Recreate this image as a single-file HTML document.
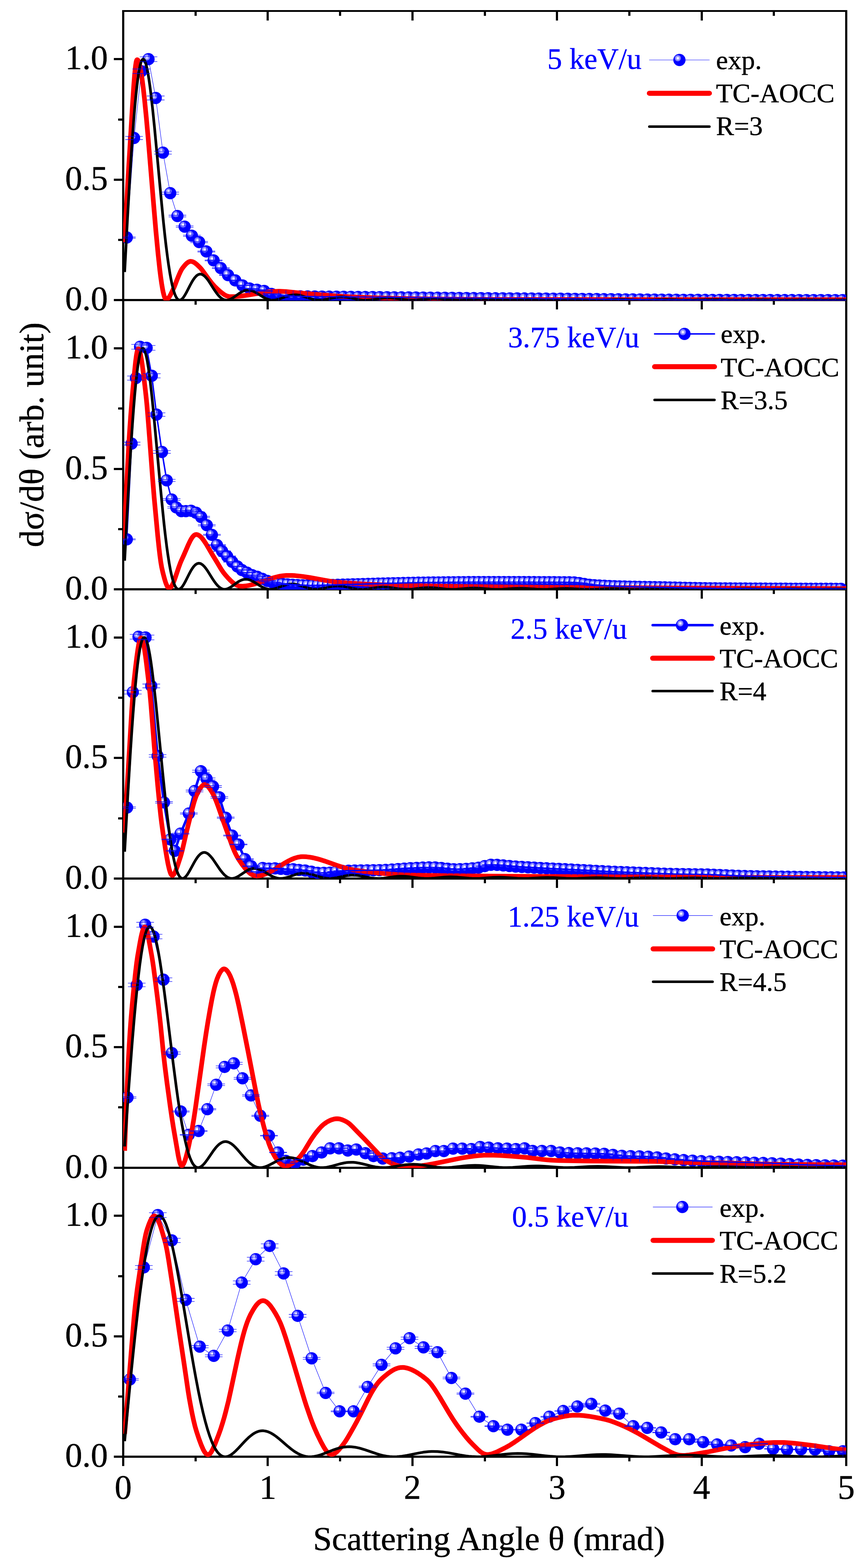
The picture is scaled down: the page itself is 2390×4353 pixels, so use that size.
<!DOCTYPE html><html><head><meta charset="utf-8"><title>Scattering</title>
<style>html,body{margin:0;padding:0;background:#fff;}svg{display:block;}text{font-family:"Liberation Serif","Times New Roman",serif;}</style></head><body>
<svg xmlns="http://www.w3.org/2000/svg" width="2390" height="4353" viewBox="0 0 2390 4353">
<rect x="0" y="0" width="2390" height="4353" fill="#fff"/>
<defs>
<g id="b"><circle r="17" fill="#0000ff"/><circle cx="-4.5" cy="-5" r="8.7" fill="#7878ff"/><circle cx="-4.5" cy="-5" r="5.6" fill="#b4b4ff"/><circle cx="-4.5" cy="-5" r="2.7" fill="#fff"/></g>
<clipPath id="c0"><rect x="342" y="30.5" width="2007" height="803.75"/></clipPath>
<clipPath id="c1"><rect x="342" y="833.25" width="2007" height="803.75"/></clipPath>
<clipPath id="c2"><rect x="342" y="1636" width="2007" height="803.75"/></clipPath>
<clipPath id="c3"><rect x="342" y="2438.75" width="2007" height="803.75"/></clipPath>
<clipPath id="c4"><rect x="342" y="3241.5" width="2007" height="803.75"/></clipPath>
</defs>
<g fill="#000">
<rect x="339" y="28" width="6" height="4019"/>
<rect x="2346" y="28" width="6" height="4019"/>
<rect x="339" y="28" width="2013" height="5"/>
<rect x="316" y="830" width="2036" height="6"/>
<rect x="316" y="1633" width="2036" height="6"/>
<rect x="316" y="2436" width="2036" height="6"/>
<rect x="316" y="3239" width="2036" height="6"/>
<rect x="316" y="4041" width="2036" height="6"/>
<rect x="316" y="496" width="24" height="6"/>
<rect x="316" y="161" width="24" height="6"/>
<rect x="328" y="663" width="12" height="6"/>
<rect x="328" y="329" width="12" height="6"/>
<rect x="316" y="1299" width="24" height="6"/>
<rect x="316" y="964" width="24" height="6"/>
<rect x="328" y="1466" width="12" height="6"/>
<rect x="328" y="1131" width="12" height="6"/>
<rect x="316" y="2101" width="24" height="6"/>
<rect x="316" y="1767" width="24" height="6"/>
<rect x="328" y="2269" width="12" height="6"/>
<rect x="328" y="1934" width="12" height="6"/>
<rect x="316" y="2904" width="24" height="6"/>
<rect x="316" y="2570" width="24" height="6"/>
<rect x="328" y="3071" width="12" height="6"/>
<rect x="328" y="2737" width="12" height="6"/>
<rect x="316" y="3707" width="24" height="6"/>
<rect x="316" y="3372" width="24" height="6"/>
<rect x="328" y="3874" width="12" height="6"/>
<rect x="328" y="3540" width="12" height="6"/>
<rect x="339" y="33" width="6" height="24"/>
<rect x="339" y="836" width="6" height="23"/>
<rect x="339" y="1639" width="6" height="23"/>
<rect x="339" y="2442" width="6" height="23"/>
<rect x="339" y="3245" width="6" height="23"/>
<rect x="339" y="4047" width="6" height="23"/>
<rect x="540" y="33" width="6" height="11"/>
<rect x="540" y="836" width="6" height="10"/>
<rect x="540" y="1639" width="6" height="10"/>
<rect x="540" y="2442" width="6" height="10"/>
<rect x="540" y="3245" width="6" height="10"/>
<rect x="540" y="4047" width="6" height="10"/>
<rect x="740" y="33" width="6" height="24"/>
<rect x="740" y="836" width="6" height="23"/>
<rect x="740" y="1639" width="6" height="23"/>
<rect x="740" y="2442" width="6" height="23"/>
<rect x="740" y="3245" width="6" height="23"/>
<rect x="740" y="4047" width="6" height="23"/>
<rect x="941" y="33" width="6" height="11"/>
<rect x="941" y="836" width="6" height="10"/>
<rect x="941" y="1639" width="6" height="10"/>
<rect x="941" y="2442" width="6" height="10"/>
<rect x="941" y="3245" width="6" height="10"/>
<rect x="941" y="4047" width="6" height="10"/>
<rect x="1142" y="33" width="6" height="24"/>
<rect x="1142" y="836" width="6" height="23"/>
<rect x="1142" y="1639" width="6" height="23"/>
<rect x="1142" y="2442" width="6" height="23"/>
<rect x="1142" y="3245" width="6" height="23"/>
<rect x="1142" y="4047" width="6" height="23"/>
<rect x="1343" y="33" width="6" height="11"/>
<rect x="1343" y="836" width="6" height="10"/>
<rect x="1343" y="1639" width="6" height="10"/>
<rect x="1343" y="2442" width="6" height="10"/>
<rect x="1343" y="3245" width="6" height="10"/>
<rect x="1343" y="4047" width="6" height="10"/>
<rect x="1543" y="33" width="6" height="24"/>
<rect x="1543" y="836" width="6" height="23"/>
<rect x="1543" y="1639" width="6" height="23"/>
<rect x="1543" y="2442" width="6" height="23"/>
<rect x="1543" y="3245" width="6" height="23"/>
<rect x="1543" y="4047" width="6" height="23"/>
<rect x="1744" y="33" width="6" height="11"/>
<rect x="1744" y="836" width="6" height="10"/>
<rect x="1744" y="1639" width="6" height="10"/>
<rect x="1744" y="2442" width="6" height="10"/>
<rect x="1744" y="3245" width="6" height="10"/>
<rect x="1744" y="4047" width="6" height="10"/>
<rect x="1945" y="33" width="6" height="24"/>
<rect x="1945" y="836" width="6" height="23"/>
<rect x="1945" y="1639" width="6" height="23"/>
<rect x="1945" y="2442" width="6" height="23"/>
<rect x="1945" y="3245" width="6" height="23"/>
<rect x="1945" y="4047" width="6" height="23"/>
<rect x="2145" y="33" width="6" height="11"/>
<rect x="2145" y="836" width="6" height="10"/>
<rect x="2145" y="1639" width="6" height="10"/>
<rect x="2145" y="2442" width="6" height="10"/>
<rect x="2145" y="3245" width="6" height="10"/>
<rect x="2145" y="4047" width="6" height="10"/>
<rect x="2346" y="33" width="6" height="24"/>
<rect x="2346" y="836" width="6" height="23"/>
<rect x="2346" y="1639" width="6" height="23"/>
<rect x="2346" y="2442" width="6" height="23"/>
<rect x="2346" y="3245" width="6" height="23"/>
<rect x="2346" y="4047" width="6" height="23"/>
</g>
<g clip-path="url(#c0)">
<path d="M352 659.3L372.1 383L392.2 197.7L412.2 164.3L432.3 272L452.4 423.8L472.5 536.2L492.5 599.8L512.6 629.2L532.7 654.6L552.7 672L572.8 698.1L592.9 722.9L612.9 744.3L633 763.7L653.1 778.4L673.2 792.4L693.2 801.1L733.4 807.8L753.4 815.9L773.5 819.2L793.6 821.2L813.6 822.3L833.7 822.7L873.9 823.3L1315.4 827.6L1556.2 829.3L1716.8 831L1857.3 832.1L1937.6 832.5L2058 832.9L2339 833.2" fill="none" stroke="#0000ff" stroke-width="1.2" stroke-linejoin="round"/>
<use href="#b" x="352" y="659.3"/>
<use href="#b" x="372.1" y="383"/>
<use href="#b" x="392.2" y="197.7"/>
<use href="#b" x="412.2" y="164.3"/>
<use href="#b" x="432.3" y="272"/>
<use href="#b" x="452.4" y="423.8"/>
<use href="#b" x="472.5" y="536.2"/>
<use href="#b" x="492.5" y="599.8"/>
<use href="#b" x="512.6" y="629.2"/>
<use href="#b" x="532.7" y="654.6"/>
<use href="#b" x="552.7" y="672"/>
<use href="#b" x="572.8" y="698.1"/>
<use href="#b" x="592.9" y="722.9"/>
<use href="#b" x="612.9" y="744.3"/>
<use href="#b" x="633" y="763.7"/>
<use href="#b" x="653.1" y="778.4"/>
<use href="#b" x="673.2" y="792.4"/>
<use href="#b" x="693.2" y="801.1"/>
<use href="#b" x="713.3" y="804.5"/>
<use href="#b" x="733.4" y="807.8"/>
<use href="#b" x="753.4" y="815.9"/>
<use href="#b" x="773.5" y="819.2"/>
<use href="#b" x="793.6" y="821.2"/>
<use href="#b" x="813.6" y="822.3"/>
<use href="#b" x="833.7" y="822.7"/>
<use href="#b" x="853.8" y="823"/>
<use href="#b" x="873.9" y="823.3"/>
<use href="#b" x="893.9" y="823.4"/>
<use href="#b" x="914" y="823.6"/>
<use href="#b" x="934.1" y="823.8"/>
<use href="#b" x="954.1" y="824"/>
<use href="#b" x="974.2" y="824.2"/>
<use href="#b" x="994.3" y="824.4"/>
<use href="#b" x="1014.3" y="824.6"/>
<use href="#b" x="1034.4" y="824.8"/>
<use href="#b" x="1054.5" y="825"/>
<use href="#b" x="1074.6" y="825.2"/>
<use href="#b" x="1094.6" y="825.4"/>
<use href="#b" x="1114.7" y="825.6"/>
<use href="#b" x="1134.8" y="825.8"/>
<use href="#b" x="1154.8" y="826"/>
<use href="#b" x="1174.9" y="826.2"/>
<use href="#b" x="1195" y="826.4"/>
<use href="#b" x="1215" y="826.6"/>
<use href="#b" x="1235.1" y="826.8"/>
<use href="#b" x="1255.2" y="827"/>
<use href="#b" x="1275.3" y="827.3"/>
<use href="#b" x="1295.3" y="827.5"/>
<use href="#b" x="1315.4" y="827.6"/>
<use href="#b" x="1335.5" y="827.8"/>
<use href="#b" x="1355.5" y="828"/>
<use href="#b" x="1375.6" y="828.1"/>
<use href="#b" x="1395.7" y="828.3"/>
<use href="#b" x="1415.7" y="828.4"/>
<use href="#b" x="1435.8" y="828.5"/>
<use href="#b" x="1455.9" y="828.6"/>
<use href="#b" x="1476" y="828.7"/>
<use href="#b" x="1496" y="828.9"/>
<use href="#b" x="1516.1" y="829"/>
<use href="#b" x="1536.2" y="829.2"/>
<use href="#b" x="1556.2" y="829.3"/>
<use href="#b" x="1576.3" y="829.5"/>
<use href="#b" x="1596.4" y="829.7"/>
<use href="#b" x="1616.4" y="829.9"/>
<use href="#b" x="1636.5" y="830.1"/>
<use href="#b" x="1656.6" y="830.3"/>
<use href="#b" x="1676.7" y="830.6"/>
<use href="#b" x="1696.7" y="830.8"/>
<use href="#b" x="1716.8" y="831"/>
<use href="#b" x="1736.9" y="831.2"/>
<use href="#b" x="1756.9" y="831.3"/>
<use href="#b" x="1777" y="831.5"/>
<use href="#b" x="1797.1" y="831.7"/>
<use href="#b" x="1817.1" y="831.8"/>
<use href="#b" x="1837.2" y="832"/>
<use href="#b" x="1857.3" y="832.1"/>
<use href="#b" x="1877.4" y="832.2"/>
<use href="#b" x="1897.4" y="832.4"/>
<use href="#b" x="1917.5" y="832.5"/>
<use href="#b" x="1937.6" y="832.5"/>
<use href="#b" x="1957.6" y="832.6"/>
<use href="#b" x="1977.7" y="832.7"/>
<use href="#b" x="1997.8" y="832.7"/>
<use href="#b" x="2017.8" y="832.8"/>
<use href="#b" x="2037.9" y="832.8"/>
<use href="#b" x="2058" y="832.9"/>
<use href="#b" x="2078.1" y="832.9"/>
<use href="#b" x="2098.1" y="833"/>
<use href="#b" x="2118.2" y="833"/>
<use href="#b" x="2138.3" y="833"/>
<use href="#b" x="2158.3" y="833.1"/>
<use href="#b" x="2178.4" y="833.1"/>
<use href="#b" x="2198.5" y="833.1"/>
<use href="#b" x="2218.5" y="833.2"/>
<use href="#b" x="2238.6" y="833.2"/>
<use href="#b" x="2258.7" y="833.2"/>
<use href="#b" x="2278.8" y="833.2"/>
<use href="#b" x="2298.8" y="833.2"/>
<use href="#b" x="2318.9" y="833.2"/>
<use href="#b" x="2339" y="833.2"/>
<path d="M346 672.7L350.2 590.1L355.2 498.3L367.7 292.1L371.1 240.5L373.6 208L376.1 183.6L377.7 172.9L378.6 169.4L379.4 167.1L380.2 166L381.1 165.7L381.9 166.1L382.8 167.1L383.6 168.5L385.3 172.6L387.8 181.5L390.3 193.4L392.8 208.2L395.3 225.7L397.8 245.5L401.1 275.2L406.1 325.8L411.1 381.8L427 574.1L432.8 642.2L438.7 704.2L443.7 750.2L446.2 770L448.7 787.5L451.2 802.4L452.9 810.8L455.4 820.8L457.1 825.7L458.7 829L459.6 830.2L460.4 830.9L461.2 831.3L462.1 831.4L463.7 831L465.4 829.8L467.1 828.1L470.4 823.4L473.8 817.4L482.9 798.5L485.4 792.4L491.3 776.9L497.1 762.6L501.3 753.3L504.6 747.2L507.2 743.6L511.3 738.4L515.5 733.7L518.8 730.5L522.2 728L524.7 726.6L527.2 725.8L529.7 725.6L532.2 725.9L534.7 726.6L537.2 727.7L540.6 729.7L543.9 732.2L547.2 735L554.7 742.2L558.1 745.9L561.4 750L579 774.4L589 787.4L596.5 795.8L606.5 805.2L612.4 810.3L617.4 814.3L621.5 817.3L624.9 819.3L629.1 821.3L632.4 822.4L635.7 823.2L639.9 823.6L645.8 823.6L653.3 823.2L662.5 822.5L671.6 821.5L689.2 819L728.4 812.7L745.9 810.4L761.8 809L776 808.6L785.2 808.9L794.4 809.6L825.3 812.6L888.7 818.3L934.6 821.7L966.4 823.7L1007.3 825.5L1062.4 827.4L1110.8 828.6L1160.9 829.5L1261.1 830.7L1342.9 831.2L1809.6 831.7L2349 831.9" fill="none" stroke="#ff0000" stroke-width="13" stroke-linejoin="round"/>
<path d="M346 755.2L354 604.4L361 482.8L365 419.7L368 376.1L371 336.1L374 299.8L377 267.6L380 239.6L383 215.9L386 196.6L388.9 181.9L389.9 178L391.9 171.6L392.9 169.2L393.9 167.3L394.9 165.8L395.9 164.8L396.9 164.4L397.9 164.3L398.9 164.8L399.9 165.7L400.9 167.1L402.9 171.2L404.9 177.1L407.9 189L409.9 198.9L412.9 216.6L415.9 237.3L418.9 260.7L423.9 304.9L428.9 354.1L446.9 546.9L453.8 617.7L457.8 655L460.8 681L464.8 712.7L467.8 734.2L471.8 759.6L474.8 776.1L477.8 790.4L481.8 806.1L484.8 815.4L486.8 820.4L488.8 824.5L490.8 827.8L492.8 830.3L494.8 832L496.8 833L497.8 833.2L499.8 833.1L500.8 832.9L502.8 831.9L505.8 829.5L507.8 827.3L509.8 824.7L512.8 820.2L516.8 813.2L527.7 792L532.7 782.8L536.7 776.3L540.7 770.8L544.7 766.4L546.7 764.6L548.7 763.2L551.7 761.8L553.7 761.2L555.7 761L557.7 761.1L559.7 761.6L561.7 762.4L563.7 763.5L567.7 766.5L569.7 768.4L572.7 771.7L576.7 776.7L580.7 782.4L594.6 804.2L599.6 811.5L604.6 818.1L609.6 823.7L614.6 828L618.6 830.6L622.6 832.3L624.6 832.8L627.6 833.2L630.6 833.2L634.6 832.5L637.6 831.5L641.6 829.7L648.6 825.5L665.5 813.5L670.5 810.5L674.5 808.5L678.5 806.9L681.5 806.1L685.5 805.4L688.5 805.3L692.5 805.5L696.5 806.3L700.5 807.5L704.5 809.2L712.5 813.4L731.4 825.2L736.4 827.8L740.4 829.6L745.4 831.4L749.4 832.4L753.4 833L757.4 833.2L760.4 833.2L764.4 832.8L768.4 832L772.4 831L779.4 828.8L796.3 822.5L804.3 820.2L811.3 818.9L818.3 818.4L822.3 818.5L826.3 818.9L830.3 819.5L835.3 820.7L843.3 823L861.2 829L870.2 831.4L878.2 832.8L886.2 833.2L892.2 833L899.2 832.3L907.2 830.8L923.1 827.2L931.1 825.6L939.1 824.5L946.9 824.1L952.5 824.2L961 824.9L969.4 826.3L989.1 830.4L997.6 831.9L1006 832.9L1014.5 833.2L1020.1 833.1L1028.6 832.5L1037 831.4L1059.5 828.1L1068 827.3L1076.4 827L1084.9 827.2L1093.3 827.9L1121.5 831.7L1129.9 832.6L1138.4 833.2L1144 833.2L1149.6 833.1L1158.1 832.7L1191.9 829.3L1200.3 828.8L1205.9 828.7L1220 829.2L1253.8 832.5L1262.2 833L1270.7 833.2L1284.8 832.9L1318.6 830.3L1327 829.9L1335.4 829.8L1343.9 830L1352.3 830.4L1386.1 832.9L1400.2 833.2L1414.3 832.9L1445.2 831.1L1462.1 830.6L1476.2 830.8L1512.8 832.9L1529.7 833.2L1546.6 832.9L1577.6 831.4L1591.6 831.1L1605.7 831.3L1639.5 832.9L1656.4 833.2L1670.5 833.1L1704.3 831.7L1721.2 831.5L1738.1 831.8L1771.8 833.1L1785.9 833.2L1800 833.1L1831 832L1847.9 831.8L1864.7 832L1895.7 833L1912.6 833.2L1926.7 833.1L1960.5 832.2L1977.4 832L1991.4 832.1L2025.2 833L2042.1 833.2L2056.2 833.1L2090 832.3L2104.1 832.2L2121 832.3L2154.7 833.1L2171.6 833.2L2230.8 832.3L2247.6 832.4L2298.3 833.2L2315.2 833.1L2349 832.5" fill="none" stroke="#000" stroke-width="7.5" stroke-linejoin="round"/>
<path d="M327.5 657.6h49M327.5 661h49M352 644.3V657.6M352 661V674.3M347.6 378.6h49M347.6 387.5h49M372.1 368V378.6M372.1 387.5V398M367.7 191.5h49M367.7 204h49M392.2 182.7V191.5M392.2 204V212.7M387.7 157.7h49M387.7 170.9h49M412.2 149.3V157.7M412.2 170.9V179.3M407.8 266.5h49M407.8 277.5h49M432.3 257V266.5M432.3 277.5V287M427.9 419.8h49M427.9 427.9h49M452.4 408.8V419.8M452.4 427.9V438.8M448 533.3h49M448 539.2h49M472.5 521.2V533.3M472.5 539.2V551.2M468 597.5h49M468 602.1h49M492.5 584.8V597.5M492.5 602.1V614.8M488.1 627.2h49M488.1 631.2h49M512.6 614.2V627.2M512.6 631.2V644.2M508.2 652.9h49M508.2 656.4h49M532.7 639.6V652.9M532.7 656.4V669.6M528.2 670.4h49M528.2 673.6h49M552.7 657V670.4M552.7 673.6V687M548.3 696.8h49M548.3 699.5h49M572.8 683.1V696.8M572.8 699.5V713.1M568.4 721.8h49M568.4 724h49M592.9 707.9V721.8M592.9 724V737.9M588.4 743.4h49M588.4 745.2h49M612.9 729.3V743.4M612.9 745.2V759.3M608.5 762.9h49M608.5 764.5h49M633 748.7V762.9M633 764.5V778.7M628.6 777.6h49M628.6 779.2h49M653.1 763.4V777.6M653.1 779.2V793.4M648.7 791.6h49M648.7 793.2h49M673.2 777.4V791.6M673.2 793.2V807.4M668.7 800.3h49M668.7 801.9h49M693.2 786.1V800.3M693.2 801.9V816.1M688.8 803.7h49M688.8 805.3h49M713.3 789.5V803.7M713.3 805.3V819.5M708.9 807h49M708.9 808.6h49M733.4 792.8V807M733.4 808.6V822.8M728.9 815.1h49M728.9 816.7h49M753.4 800.9V815.1M753.4 816.7V830.9M749 818.4h49M749 820h49M773.5 804.2V818.4M773.5 820V834.2M769.1 820.4h49M769.1 822h49M793.6 806.2V820.4M793.6 822V836.2M789.1 821.5h49M789.1 823.1h49M813.6 807.3V821.5M813.6 823.1V837.3M809.2 821.9h49M809.2 823.5h49M833.7 807.7V821.9M833.7 823.5V837.7M829.3 822.2h49M829.3 823.8h49M853.8 808V822.2M853.8 823.8V838M849.4 822.5h49M849.4 824.1h49M873.9 808.3V822.5M873.9 824.1V838.3M869.4 822.6h49M869.4 824.2h49M893.9 808.4V822.6M893.9 824.2V838.4M889.5 822.8h49M889.5 824.4h49M914 808.6V822.8M914 824.4V838.6M909.6 823h49M909.6 824.6h49M934.1 808.8V823M934.1 824.6V838.8M929.6 823.2h49M929.6 824.8h49M954.1 809V823.2M954.1 824.8V839M949.7 823.4h49M949.7 825h49M974.2 809.2V823.4M974.2 825V839.2M969.8 823.6h49M969.8 825.2h49M994.3 809.4V823.6M994.3 825.2V839.4M989.8 823.8h49M989.8 825.4h49M1014.3 809.6V823.8M1014.3 825.4V839.6M1009.9 824h49M1009.9 825.6h49M1034.4 809.8V824M1034.4 825.6V839.8M1030 824.2h49M1030 825.8h49M1054.5 810V824.2M1054.5 825.8V840M1050.1 824.4h49M1050.1 826h49M1074.6 810.2V824.4M1074.6 826V840.2M1070.1 824.6h49M1070.1 826.2h49M1094.6 810.4V824.6M1094.6 826.2V840.4M1090.2 824.8h49M1090.2 826.4h49M1114.7 810.6V824.8M1114.7 826.4V840.6M1110.3 825h49M1110.3 826.6h49M1134.8 810.8V825M1134.8 826.6V840.8M1130.3 825.2h49M1130.3 826.8h49M1154.8 811V825.2M1154.8 826.8V841M1150.4 825.4h49M1150.4 827h49M1174.9 811.2V825.4M1174.9 827V841.2M1170.5 825.6h49M1170.5 827.2h49M1195 811.4V825.6M1195 827.2V841.4M1190.5 825.8h49M1190.5 827.4h49M1215 811.6V825.8M1215 827.4V841.6M1210.6 826h49M1210.6 827.6h49M1235.1 811.8V826M1235.1 827.6V841.8M1230.7 826.2h49M1230.7 827.8h49M1255.2 812V826.2M1255.2 827.8V842M1250.8 826.5h49M1250.8 828.1h49M1275.3 812.3V826.5M1275.3 828.1V842.3M1270.8 826.7h49M1270.8 828.3h49M1295.3 812.5V826.7M1295.3 828.3V842.5M1290.9 826.8h49M1290.9 828.4h49M1315.4 812.6V826.8M1315.4 828.4V842.6M1311 827h49M1311 828.6h49M1335.5 812.8V827M1335.5 828.6V842.8M1331 827.2h49M1331 828.8h49M1355.5 813V827.2M1355.5 828.8V843M1351.1 827.3h49M1351.1 828.9h49M1375.6 813.1V827.3M1375.6 828.9V843.1M1371.2 827.5h49M1371.2 829.1h49M1395.7 813.3V827.5M1395.7 829.1V843.3M1391.2 827.6h49M1391.2 829.2h49M1415.7 813.4V827.6M1415.7 829.2V843.4M1411.3 827.7h49M1411.3 829.3h49M1435.8 813.5V827.7M1435.8 829.3V843.5M1431.4 827.8h49M1431.4 829.4h49M1455.9 813.6V827.8M1455.9 829.4V843.6M1451.5 827.9h49M1451.5 829.5h49M1476 813.7V827.9M1476 829.5V843.7M1471.5 828.1h49M1471.5 829.7h49M1496 813.9V828.1M1496 829.7V843.9M1491.6 828.2h49M1491.6 829.8h49M1516.1 814V828.2M1516.1 829.8V844M1511.7 828.4h49M1511.7 830h49M1536.2 814.2V828.4M1536.2 830V844.2M1531.7 828.5h49M1531.7 830.1h49M1556.2 814.3V828.5M1556.2 830.1V844.3M1551.8 828.7h49M1551.8 830.3h49M1576.3 814.5V828.7M1576.3 830.3V844.5M1571.9 828.9h49M1571.9 830.5h49M1596.4 814.7V828.9M1596.4 830.5V844.7M1591.9 829.1h49M1591.9 830.7h49M1616.4 814.9V829.1M1616.4 830.7V844.9M1612 829.3h49M1612 830.9h49M1636.5 815.1V829.3M1636.5 830.9V845.1M1632.1 829.5h49M1632.1 831.1h49M1656.6 815.3V829.5M1656.6 831.1V845.3M1652.2 829.8h49M1652.2 831.4h49M1676.7 815.6V829.8M1676.7 831.4V845.6M1672.2 830h49M1672.2 831.6h49M1696.7 815.8V830M1696.7 831.6V845.8M1692.3 830.2h49M1692.3 831.8h49M1716.8 816V830.2M1716.8 831.8V846M1712.4 830.4h49M1712.4 832h49M1736.9 816.2V830.4M1736.9 832V846.2M1732.4 830.5h49M1732.4 832.1h49M1756.9 816.3V830.5M1756.9 832.1V846.3M1752.5 830.7h49M1752.5 832.3h49M1777 816.5V830.7M1777 832.3V846.5M1772.6 830.9h49M1772.6 832.5h49M1797.1 816.7V830.9M1797.1 832.5V846.7M1792.6 831h49M1792.6 832.6h49M1817.1 816.8V831M1817.1 832.6V846.8M1812.7 831.2h49M1812.7 832.8h49M1837.2 817V831.2M1837.2 832.8V847M1832.8 831.3h49M1832.8 832.9h49M1857.3 817.1V831.3M1857.3 832.9V847.1M1852.9 831.4h49M1852.9 833h49M1877.4 817.2V831.4M1877.4 833V847.2M1872.9 831.6h49M1872.9 833.2h49M1897.4 817.4V831.6M1897.4 833.2V847.4M1893 831.7h49M1893 833.3h49M1917.5 817.5V831.7M1917.5 833.3V847.5M1913.1 831.7h49M1913.1 833.3h49M1937.6 817.5V831.7M1937.6 833.3V847.5M1933.1 831.8h49M1933.1 833.4h49M1957.6 817.6V831.8M1957.6 833.4V847.6M1953.2 831.9h49M1953.2 833.5h49M1977.7 817.7V831.9M1977.7 833.5V847.7M1973.3 831.9h49M1973.3 833.5h49M1997.8 817.7V831.9M1997.8 833.5V847.7M1993.3 832h49M1993.3 833.6h49M2017.8 817.8V832M2017.8 833.6V847.8M2013.4 832h49M2013.4 833.6h49M2037.9 817.8V832M2037.9 833.6V847.8M2033.5 832.1h49M2033.5 833.7h49M2058 817.9V832.1M2058 833.7V847.9M2053.6 832.1h49M2053.6 833.7h49M2078.1 817.9V832.1M2078.1 833.7V847.9M2073.6 832.2h49M2073.6 833.8h49M2098.1 818V832.2M2098.1 833.8V848M2093.7 832.2h49M2093.7 833.8h49M2118.2 818V832.2M2118.2 833.8V848M2113.8 832.2h49M2113.8 833.8h49M2138.3 818V832.2M2138.3 833.8V848M2133.8 832.3h49M2133.8 833.9h49M2158.3 818.1V832.3M2158.3 833.9V848.1M2153.9 832.3h49M2153.9 833.9h49M2178.4 818.1V832.3M2178.4 833.9V848.1M2174 832.3h49M2174 833.9h49M2198.5 818.1V832.3M2198.5 833.9V848.1M2194 832.4h49M2194 834h49M2218.5 818.2V832.4M2218.5 834V848.2M2214.1 832.4h49M2214.1 834h49M2238.6 818.2V832.4M2238.6 834V848.2M2234.2 832.4h49M2234.2 834h49M2258.7 818.2V832.4M2258.7 834V848.2M2254.3 832.4h49M2254.3 834h49M2278.8 818.2V832.4M2278.8 834V848.2M2274.3 832.4h49M2274.3 834h49M2298.8 818.2V832.4M2298.8 834V848.2M2294.4 832.4h49M2294.4 834h49M2318.9 818.2V832.4M2318.9 834V848.2M2314.5 832.4h49M2314.5 834h49M2339 818.2V832.4M2339 834V848.2" stroke="#0000ff" stroke-width="1.3" fill="none"/>
</g>
<g clip-path="url(#c1)">
<path d="M352 1497.2L365.3 1231.5L377.3 1049.6L388.8 962.7L407 965.7L421.3 1043.3L434.6 1151L449.6 1254.7L462.8 1333.6L476.5 1386.7L489.2 1408.6L503.4 1419.1L516 1419.1L530.3 1417.9L544.3 1423.5L558.4 1435.4L574 1458.1L588.2 1484.9L602.3 1513.2L616.5 1530.3L630.6 1544.4L644.7 1559.9L658.9 1572.6L671.5 1582.5L685.6 1589.8L699.9 1596.7L714.1 1601.2L728.1 1606.9L742 1612.8L756 1616.6L770 1619.5L783.9 1621.3L811.9 1623.4L825.8 1624.3L839.8 1624.9L853.8 1625.2L867.8 1625.3L895.7 1624.8L1035.4 1620.7L1133.2 1618.2L1175.1 1617.4L1217 1616.9L1286.8 1616.2L1342.7 1615.9L1468.4 1616.1L1580.2 1616.6L1594.1 1617L1608.1 1618.7L1636 1623.5L1650 1624.8L1691.9 1626.9L1719.8 1627.9L1761.8 1629L1831.6 1630.3L1929.4 1632.5L1971.3 1633.2L2152.9 1634.2L2334.5 1634.7" fill="none" stroke="#0000ff" stroke-width="4" stroke-linejoin="round"/>
<use href="#b" x="352" y="1497.2"/>
<use href="#b" x="365.3" y="1231.5"/>
<use href="#b" x="377.3" y="1049.6"/>
<use href="#b" x="388.8" y="962.7"/>
<use href="#b" x="407" y="965.7"/>
<use href="#b" x="421.3" y="1043.3"/>
<use href="#b" x="434.6" y="1151"/>
<use href="#b" x="449.6" y="1254.7"/>
<use href="#b" x="462.8" y="1333.6"/>
<use href="#b" x="476.5" y="1386.7"/>
<use href="#b" x="489.2" y="1408.6"/>
<use href="#b" x="503.4" y="1419.1"/>
<use href="#b" x="516" y="1419.1"/>
<use href="#b" x="530.3" y="1417.9"/>
<use href="#b" x="544.3" y="1423.5"/>
<use href="#b" x="558.4" y="1435.4"/>
<use href="#b" x="574" y="1458.1"/>
<use href="#b" x="588.2" y="1484.9"/>
<use href="#b" x="602.3" y="1513.2"/>
<use href="#b" x="616.5" y="1530.3"/>
<use href="#b" x="630.6" y="1544.4"/>
<use href="#b" x="644.7" y="1559.9"/>
<use href="#b" x="658.9" y="1572.6"/>
<use href="#b" x="671.5" y="1582.5"/>
<use href="#b" x="685.6" y="1589.8"/>
<use href="#b" x="699.9" y="1596.7"/>
<use href="#b" x="714.1" y="1601.2"/>
<use href="#b" x="728.1" y="1606.9"/>
<use href="#b" x="742" y="1612.8"/>
<use href="#b" x="756" y="1616.6"/>
<use href="#b" x="770" y="1619.5"/>
<use href="#b" x="783.9" y="1621.3"/>
<use href="#b" x="797.9" y="1622.5"/>
<use href="#b" x="811.9" y="1623.4"/>
<use href="#b" x="825.8" y="1624.3"/>
<use href="#b" x="839.8" y="1624.9"/>
<use href="#b" x="853.8" y="1625.2"/>
<use href="#b" x="867.8" y="1625.3"/>
<use href="#b" x="881.7" y="1625.1"/>
<use href="#b" x="895.7" y="1624.8"/>
<use href="#b" x="909.7" y="1624.4"/>
<use href="#b" x="923.6" y="1623.9"/>
<use href="#b" x="937.6" y="1623.5"/>
<use href="#b" x="951.6" y="1623.1"/>
<use href="#b" x="965.5" y="1622.7"/>
<use href="#b" x="979.5" y="1622.3"/>
<use href="#b" x="993.5" y="1621.9"/>
<use href="#b" x="1007.4" y="1621.5"/>
<use href="#b" x="1021.4" y="1621.1"/>
<use href="#b" x="1035.4" y="1620.7"/>
<use href="#b" x="1049.3" y="1620.3"/>
<use href="#b" x="1063.3" y="1620"/>
<use href="#b" x="1077.3" y="1619.6"/>
<use href="#b" x="1091.3" y="1619.3"/>
<use href="#b" x="1105.2" y="1618.9"/>
<use href="#b" x="1119.2" y="1618.6"/>
<use href="#b" x="1133.2" y="1618.2"/>
<use href="#b" x="1147.1" y="1617.9"/>
<use href="#b" x="1161.1" y="1617.6"/>
<use href="#b" x="1175.1" y="1617.4"/>
<use href="#b" x="1189" y="1617.2"/>
<use href="#b" x="1203" y="1617"/>
<use href="#b" x="1217" y="1616.9"/>
<use href="#b" x="1230.9" y="1616.7"/>
<use href="#b" x="1244.9" y="1616.6"/>
<use href="#b" x="1258.9" y="1616.4"/>
<use href="#b" x="1272.8" y="1616.3"/>
<use href="#b" x="1286.8" y="1616.2"/>
<use href="#b" x="1300.8" y="1616.1"/>
<use href="#b" x="1314.8" y="1616"/>
<use href="#b" x="1328.7" y="1616"/>
<use href="#b" x="1342.7" y="1615.9"/>
<use href="#b" x="1356.7" y="1615.9"/>
<use href="#b" x="1370.6" y="1615.9"/>
<use href="#b" x="1384.6" y="1615.9"/>
<use href="#b" x="1398.6" y="1616"/>
<use href="#b" x="1412.5" y="1616"/>
<use href="#b" x="1426.5" y="1616"/>
<use href="#b" x="1440.5" y="1616"/>
<use href="#b" x="1454.4" y="1616"/>
<use href="#b" x="1468.4" y="1616.1"/>
<use href="#b" x="1482.4" y="1616.1"/>
<use href="#b" x="1496.3" y="1616.2"/>
<use href="#b" x="1510.3" y="1616.2"/>
<use href="#b" x="1524.3" y="1616.3"/>
<use href="#b" x="1538.3" y="1616.3"/>
<use href="#b" x="1552.2" y="1616.4"/>
<use href="#b" x="1566.2" y="1616.5"/>
<use href="#b" x="1580.2" y="1616.6"/>
<use href="#b" x="1594.1" y="1617"/>
<use href="#b" x="1608.1" y="1618.7"/>
<use href="#b" x="1622.1" y="1621.2"/>
<use href="#b" x="1636" y="1623.5"/>
<use href="#b" x="1650" y="1624.8"/>
<use href="#b" x="1664" y="1625.6"/>
<use href="#b" x="1677.9" y="1626.3"/>
<use href="#b" x="1691.9" y="1626.9"/>
<use href="#b" x="1705.9" y="1627.4"/>
<use href="#b" x="1719.8" y="1627.9"/>
<use href="#b" x="1733.8" y="1628.3"/>
<use href="#b" x="1747.8" y="1628.7"/>
<use href="#b" x="1761.8" y="1629"/>
<use href="#b" x="1775.7" y="1629.3"/>
<use href="#b" x="1789.7" y="1629.6"/>
<use href="#b" x="1803.7" y="1629.8"/>
<use href="#b" x="1817.6" y="1630.1"/>
<use href="#b" x="1831.6" y="1630.3"/>
<use href="#b" x="1845.6" y="1630.6"/>
<use href="#b" x="1859.5" y="1630.9"/>
<use href="#b" x="1873.5" y="1631.3"/>
<use href="#b" x="1887.5" y="1631.6"/>
<use href="#b" x="1901.4" y="1631.9"/>
<use href="#b" x="1915.4" y="1632.2"/>
<use href="#b" x="1929.4" y="1632.5"/>
<use href="#b" x="1943.3" y="1632.8"/>
<use href="#b" x="1957.3" y="1633"/>
<use href="#b" x="1971.3" y="1633.2"/>
<use href="#b" x="1985.3" y="1633.3"/>
<use href="#b" x="1999.2" y="1633.4"/>
<use href="#b" x="2013.2" y="1633.5"/>
<use href="#b" x="2027.2" y="1633.6"/>
<use href="#b" x="2041.1" y="1633.7"/>
<use href="#b" x="2055.1" y="1633.7"/>
<use href="#b" x="2069.1" y="1633.8"/>
<use href="#b" x="2083" y="1633.9"/>
<use href="#b" x="2097" y="1634"/>
<use href="#b" x="2111" y="1634"/>
<use href="#b" x="2124.9" y="1634.1"/>
<use href="#b" x="2138.9" y="1634.2"/>
<use href="#b" x="2152.9" y="1634.2"/>
<use href="#b" x="2166.8" y="1634.3"/>
<use href="#b" x="2180.8" y="1634.3"/>
<use href="#b" x="2194.8" y="1634.4"/>
<use href="#b" x="2208.8" y="1634.4"/>
<use href="#b" x="2222.7" y="1634.5"/>
<use href="#b" x="2236.7" y="1634.5"/>
<use href="#b" x="2250.7" y="1634.6"/>
<use href="#b" x="2264.6" y="1634.6"/>
<use href="#b" x="2278.6" y="1634.6"/>
<use href="#b" x="2292.6" y="1634.6"/>
<use href="#b" x="2306.5" y="1634.6"/>
<use href="#b" x="2320.5" y="1634.7"/>
<use href="#b" x="2334.5" y="1634.7"/>
<path d="M345.2 1497.5L348.6 1407.9L352.7 1322.2L357.7 1230.6L360.2 1190.3L362.8 1153.8L365.3 1121.6L368.6 1083.4L372.8 1038L376.1 1005.7L378.6 986.6L380.3 977.2L382 971.2L382.8 969.5L383.6 968.6L384.5 968.6L385.3 969.2L386.1 970.6L387 972.5L388.6 977.9L390.3 985.1L392.8 999.1L395.3 1016.1L398.7 1042L403.7 1084.7L406.2 1107.7L407.9 1125.3L410.4 1155.4L416.2 1230L423.7 1329.8L427.9 1381.1L437.9 1488.5L441.3 1520.7L443.8 1542L446.3 1560.3L448.8 1574.8L452.1 1589.6L456.3 1605.6L459.6 1616.6L461.3 1621.3L463 1625.3L464.7 1628.6L466.3 1631L467.2 1631.8L468.8 1632.8L469.7 1632.9L471.3 1632.5L473 1631.4L474.7 1629.6L477.2 1625.9L480.5 1619.2L483 1613.1L485.5 1606.3L496.4 1574.2L500.6 1562.8L503.1 1556.9L510.6 1540.3L521.5 1515.1L527.3 1502.7L529.8 1498L532.3 1493.9L534.8 1490.3L536.5 1488.4L539 1486L540.7 1484.9L542.3 1484.2L544.8 1483.8L547.3 1484.1L549.8 1485L552.4 1486.4L554.9 1488.2L557.4 1490.5L559.9 1493.1L562.4 1496.1L565.7 1500.6L569.9 1506.7L574.1 1513.4L589.1 1539.1L601.6 1559.5L614.2 1580.6L620 1589.2L625.9 1596.5L632.5 1604L639.2 1610.9L644.2 1615.6L649.2 1619.7L654.3 1623L658.4 1625.1L662.6 1626.5L667.6 1627.3L673.5 1627.4L681 1626.8L690.2 1625.3L699.4 1623.2L706.9 1621.2L716.1 1618.4L754.5 1605.5L763.7 1602.8L772 1600.7L779.5 1599.2L787.1 1598.2L794.6 1597.5L802.1 1597.4L810.5 1597.6L819.6 1598.1L829.7 1599.1L840.5 1600.4L860.6 1603.5L899.8 1610.7L915.7 1613.3L931.6 1615.6L947.4 1617.2L987.5 1620.1L1029.3 1622.3L1075.2 1624L1132.9 1625.6L1198.8 1626.9L1312.4 1628.5L1424.4 1629.7L1548 1630.7L1868.7 1632.3L2349 1634" fill="none" stroke="#ff0000" stroke-width="13" stroke-linejoin="round"/>
<path d="M346 1556.6L354 1403.2L361 1279.9L365 1216.2L368 1172.3L371 1132.1L374 1095.9L377 1064L380 1036.4L383 1013.4L386 995L387.9 985.3L388.9 981.2L390.9 974.6L391.9 972.1L392.9 970.1L393.9 968.6L394.9 967.6L395.9 967.1L396.9 967.1L397.9 967.6L398.9 968.5L399.9 970L401.9 974.2L403.9 980.3L406.9 992.7L408.9 1002.9L411.9 1021.2L413.9 1035.1L416.9 1058.4L421.9 1102.7L426.9 1152.3L444.9 1348.4L451.9 1420.6L455.8 1458.5L458.8 1484.9L462.8 1517.1L465.8 1538.8L469.8 1564.4L472.8 1580.9L475.8 1595.2L477.8 1603.4L479.8 1610.6L482.8 1619.7L484.8 1624.5L486.8 1628.5L487.8 1630.1L489.8 1632.7L491.8 1634.6L493.8 1635.7L494.8 1635.9L496.8 1635.9L497.8 1635.7L499.8 1634.7L502.8 1632.3L504.8 1630.1L506.8 1627.4L509.8 1622.8L513.8 1615.7L524.7 1594.1L529.7 1584.8L533.7 1578.3L537.7 1572.8L541.7 1568.5L544.7 1566.2L547.7 1564.6L549.7 1564L551.7 1563.8L553.7 1563.9L555.7 1564.3L557.7 1565.1L559.7 1566.2L563.7 1569.3L567.7 1573.4L571.7 1578.4L575.7 1584.1L589.6 1606.2L594.6 1613.8L599.6 1620.5L604.6 1626.2L609.6 1630.7L613.6 1633.3L617.6 1635.1L619.6 1635.6L622.6 1636L625.6 1635.9L629.6 1635.1L632.6 1634.1L636.6 1632.2L643.6 1627.9L659.5 1616.3L664.5 1613.3L668.5 1611.2L672.5 1609.7L675.5 1608.8L679.5 1608.2L682.5 1608L686.5 1608.3L690.5 1609.2L694.5 1610.5L698.5 1612.2L706.5 1616.6L724.4 1627.9L729.4 1630.6L733.4 1632.4L737.4 1633.9L741.4 1635L745.4 1635.7L749.4 1636L752.4 1636L756.4 1635.6L760.4 1634.9L764.4 1633.9L771.4 1631.6L788.3 1625.2L796.3 1622.9L803.3 1621.6L810.3 1621.2L814.3 1621.3L818.3 1621.8L826.3 1623.4L834.3 1625.7L851.2 1631.5L860.2 1634L868.2 1635.5L876.2 1636L883.2 1635.7L891.2 1634.7L898.2 1633.3L915.1 1629.4L923.1 1627.9L930.1 1627.1L937.1 1626.8L944.1 1627.1L952.5 1628.1L961 1629.6L977.9 1633.2L986.3 1634.7L994.8 1635.7L1003.2 1636L1008.9 1635.9L1017.3 1635.1L1042.6 1631.4L1051.1 1630.4L1059.5 1629.8L1065.2 1629.8L1073.6 1630.1L1082.1 1630.9L1104.6 1634.1L1113 1635.1L1121.5 1635.8L1129.9 1636L1135.5 1635.9L1144 1635.4L1169.3 1632.6L1177.8 1631.9L1186.2 1631.5L1191.9 1631.5L1200.3 1631.7L1208.8 1632.3L1239.7 1635.4L1253.8 1636L1267.9 1635.7L1298.8 1633.2L1307.3 1632.8L1315.7 1632.6L1329.8 1632.9L1363.6 1635.4L1372 1635.8L1380.5 1636L1394.6 1635.7L1425.5 1633.8L1442.4 1633.3L1456.5 1633.6L1490.3 1635.6L1507.2 1636L1521.3 1635.8L1552.2 1634.2L1569.1 1633.8L1583.2 1634.1L1617 1635.7L1633.9 1636L1650.8 1635.7L1681.7 1634.4L1695.8 1634.2L1712.7 1634.5L1746.5 1635.8L1760.6 1636L1774.7 1635.8L1808.4 1634.7L1822.5 1634.5L1836.6 1634.7L1867.6 1635.7L1884.5 1636L1898.5 1635.9L1932.3 1634.9L1946.4 1634.7L1963.3 1634.9L1994.3 1635.8L2011.1 1636L2025.2 1635.9L2059 1635.1L2073.1 1634.9L2087.2 1635L2121 1635.8L2137.8 1636L2199.8 1635.1L2261.7 1636L2278.6 1635.9L2320.8 1635.2L2349 1635.4" fill="none" stroke="#000" stroke-width="7.5" stroke-linejoin="round"/>
<path d="M327.5 1495.8h49M327.5 1498.6h49M352 1482.2V1495.8M352 1498.6V1512.2M340.8 1227.5h49M340.8 1235.5h49M365.3 1216.5V1227.5M365.3 1235.5V1246.5M352.8 1043.8h49M352.8 1055.4h49M377.3 1034.6V1043.8M377.3 1055.4V1064.6M364.3 956.1h49M364.3 969.3h49M388.8 947.7V956.1M388.8 969.3V977.7M382.5 959.1h49M382.5 972.3h49M407 950.7V959.1M407 972.3V980.7M396.8 1037.5h49M396.8 1049.2h49M421.3 1028.3V1037.5M421.3 1049.2V1058.3M410.1 1146.2h49M410.1 1155.8h49M434.6 1136V1146.2M434.6 1155.8V1166M425.1 1250.9h49M425.1 1258.5h49M449.6 1239.7V1250.9M449.6 1258.5V1269.7M438.3 1330.6h49M438.3 1336.6h49M462.8 1318.6V1330.6M462.8 1336.6V1348.6M452 1384.3h49M452 1389.2h49M476.5 1371.7V1384.3M476.5 1389.2V1401.7M464.7 1406.3h49M464.7 1410.8h49M489.2 1393.6V1406.3M489.2 1410.8V1423.6M478.9 1416.9h49M478.9 1421.2h49M503.4 1404.1V1416.9M503.4 1421.2V1434.1M491.5 1416.9h49M491.5 1421.2h49M516 1404.1V1416.9M516 1421.2V1434.1M505.8 1415.8h49M505.8 1420.1h49M530.3 1402.9V1415.8M530.3 1420.1V1432.9M519.8 1421.4h49M519.8 1425.6h49M544.3 1408.5V1421.4M544.3 1425.6V1438.5M533.9 1433.5h49M533.9 1437.4h49M558.4 1420.4V1433.5M558.4 1437.4V1450.4M549.5 1456.3h49M549.5 1459.8h49M574 1443.1V1456.3M574 1459.8V1473.1M563.7 1483.5h49M563.7 1486.4h49M588.2 1469.9V1483.5M588.2 1486.4V1499.9M577.8 1512h49M577.8 1514.5h49M602.3 1498.2V1512M602.3 1514.5V1528.2M592 1529.3h49M592 1531.3h49M616.5 1515.3V1529.3M616.5 1531.3V1545.3M606.1 1543.4h49M606.1 1545.3h49M630.6 1529.4V1543.4M630.6 1545.3V1559.4M620.2 1559.1h49M620.2 1560.7h49M644.7 1544.9V1559.1M644.7 1560.7V1574.9M634.4 1571.8h49M634.4 1573.4h49M658.9 1557.6V1571.8M658.9 1573.4V1587.6M647 1581.7h49M647 1583.3h49M671.5 1567.5V1581.7M671.5 1583.3V1597.5M661.1 1589h49M661.1 1590.6h49M685.6 1574.8V1589M685.6 1590.6V1604.8M675.4 1595.9h49M675.4 1597.5h49M699.9 1581.7V1595.9M699.9 1597.5V1611.7M689.6 1600.4h49M689.6 1602h49M714.1 1586.2V1600.4M714.1 1602V1616.2M703.6 1606.1h49M703.6 1607.7h49M728.1 1591.9V1606.1M728.1 1607.7V1621.9M717.5 1612h49M717.5 1613.6h49M742 1597.8V1612M742 1613.6V1627.8M731.5 1615.8h49M731.5 1617.4h49M756 1601.6V1615.8M756 1617.4V1631.6M745.5 1618.7h49M745.5 1620.3h49M770 1604.5V1618.7M770 1620.3V1634.5M759.4 1620.5h49M759.4 1622.1h49M783.9 1606.3V1620.5M783.9 1622.1V1636.3M773.4 1621.7h49M773.4 1623.3h49M797.9 1607.5V1621.7M797.9 1623.3V1637.5M787.4 1622.6h49M787.4 1624.2h49M811.9 1608.4V1622.6M811.9 1624.2V1638.4M801.3 1623.5h49M801.3 1625.1h49M825.8 1609.3V1623.5M825.8 1625.1V1639.3M815.3 1624.1h49M815.3 1625.7h49M839.8 1609.9V1624.1M839.8 1625.7V1639.9M829.3 1624.4h49M829.3 1626h49M853.8 1610.2V1624.4M853.8 1626V1640.2M843.3 1624.5h49M843.3 1626.1h49M867.8 1610.3V1624.5M867.8 1626.1V1640.3M857.2 1624.3h49M857.2 1625.9h49M881.7 1610.1V1624.3M881.7 1625.9V1640.1M871.2 1624h49M871.2 1625.6h49M895.7 1609.8V1624M895.7 1625.6V1639.8M885.2 1623.6h49M885.2 1625.2h49M909.7 1609.4V1623.6M909.7 1625.2V1639.4M899.1 1623.1h49M899.1 1624.7h49M923.6 1608.9V1623.1M923.6 1624.7V1638.9M913.1 1622.7h49M913.1 1624.3h49M937.6 1608.5V1622.7M937.6 1624.3V1638.5M927.1 1622.3h49M927.1 1623.9h49M951.6 1608.1V1622.3M951.6 1623.9V1638.1M941 1621.9h49M941 1623.5h49M965.5 1607.7V1621.9M965.5 1623.5V1637.7M955 1621.5h49M955 1623.1h49M979.5 1607.3V1621.5M979.5 1623.1V1637.3M969 1621.1h49M969 1622.7h49M993.5 1606.9V1621.1M993.5 1622.7V1636.9M982.9 1620.7h49M982.9 1622.3h49M1007.4 1606.5V1620.7M1007.4 1622.3V1636.5M996.9 1620.3h49M996.9 1621.9h49M1021.4 1606.1V1620.3M1021.4 1621.9V1636.1M1010.9 1619.9h49M1010.9 1621.5h49M1035.4 1605.7V1619.9M1035.4 1621.5V1635.7M1024.8 1619.5h49M1024.8 1621.1h49M1049.3 1605.3V1619.5M1049.3 1621.1V1635.3M1038.8 1619.2h49M1038.8 1620.8h49M1063.3 1605V1619.2M1063.3 1620.8V1635M1052.8 1618.8h49M1052.8 1620.4h49M1077.3 1604.6V1618.8M1077.3 1620.4V1634.6M1066.8 1618.5h49M1066.8 1620.1h49M1091.3 1604.3V1618.5M1091.3 1620.1V1634.3M1080.7 1618.1h49M1080.7 1619.7h49M1105.2 1603.9V1618.1M1105.2 1619.7V1633.9M1094.7 1617.8h49M1094.7 1619.4h49M1119.2 1603.6V1617.8M1119.2 1619.4V1633.6M1108.7 1617.4h49M1108.7 1619h49M1133.2 1603.2V1617.4M1133.2 1619V1633.2M1122.6 1617.1h49M1122.6 1618.7h49M1147.1 1602.9V1617.1M1147.1 1618.7V1632.9M1136.6 1616.8h49M1136.6 1618.4h49M1161.1 1602.6V1616.8M1161.1 1618.4V1632.6M1150.6 1616.6h49M1150.6 1618.2h49M1175.1 1602.4V1616.6M1175.1 1618.2V1632.4M1164.5 1616.4h49M1164.5 1618h49M1189 1602.2V1616.4M1189 1618V1632.2M1178.5 1616.2h49M1178.5 1617.8h49M1203 1602V1616.2M1203 1617.8V1632M1192.5 1616.1h49M1192.5 1617.7h49M1217 1601.9V1616.1M1217 1617.7V1631.9M1206.4 1615.9h49M1206.4 1617.5h49M1230.9 1601.7V1615.9M1230.9 1617.5V1631.7M1220.4 1615.8h49M1220.4 1617.4h49M1244.9 1601.6V1615.8M1244.9 1617.4V1631.6M1234.4 1615.6h49M1234.4 1617.2h49M1258.9 1601.4V1615.6M1258.9 1617.2V1631.4M1248.3 1615.5h49M1248.3 1617.1h49M1272.8 1601.3V1615.5M1272.8 1617.1V1631.3M1262.3 1615.4h49M1262.3 1617h49M1286.8 1601.2V1615.4M1286.8 1617V1631.2M1276.3 1615.3h49M1276.3 1616.9h49M1300.8 1601.1V1615.3M1300.8 1616.9V1631.1M1290.3 1615.2h49M1290.3 1616.8h49M1314.8 1601V1615.2M1314.8 1616.8V1631M1304.2 1615.2h49M1304.2 1616.8h49M1328.7 1601V1615.2M1328.7 1616.8V1631M1318.2 1615.1h49M1318.2 1616.7h49M1342.7 1600.9V1615.1M1342.7 1616.7V1630.9M1332.2 1615.1h49M1332.2 1616.7h49M1356.7 1600.9V1615.1M1356.7 1616.7V1630.9M1346.1 1615.1h49M1346.1 1616.7h49M1370.6 1600.9V1615.1M1370.6 1616.7V1630.9M1360.1 1615.1h49M1360.1 1616.7h49M1384.6 1600.9V1615.1M1384.6 1616.7V1630.9M1374.1 1615.2h49M1374.1 1616.8h49M1398.6 1601V1615.2M1398.6 1616.8V1631M1388 1615.2h49M1388 1616.8h49M1412.5 1601V1615.2M1412.5 1616.8V1631M1402 1615.2h49M1402 1616.8h49M1426.5 1601V1615.2M1426.5 1616.8V1631M1416 1615.2h49M1416 1616.8h49M1440.5 1601V1615.2M1440.5 1616.8V1631M1429.9 1615.2h49M1429.9 1616.8h49M1454.4 1601V1615.2M1454.4 1616.8V1631M1443.9 1615.3h49M1443.9 1616.9h49M1468.4 1601.1V1615.3M1468.4 1616.9V1631.1M1457.9 1615.3h49M1457.9 1616.9h49M1482.4 1601.1V1615.3M1482.4 1616.9V1631.1M1471.8 1615.4h49M1471.8 1617h49M1496.3 1601.2V1615.4M1496.3 1617V1631.2M1485.8 1615.4h49M1485.8 1617h49M1510.3 1601.2V1615.4M1510.3 1617V1631.2M1499.8 1615.5h49M1499.8 1617.1h49M1524.3 1601.3V1615.5M1524.3 1617.1V1631.3M1513.8 1615.5h49M1513.8 1617.1h49M1538.3 1601.3V1615.5M1538.3 1617.1V1631.3M1527.7 1615.6h49M1527.7 1617.2h49M1552.2 1601.4V1615.6M1552.2 1617.2V1631.4M1541.7 1615.7h49M1541.7 1617.3h49M1566.2 1601.5V1615.7M1566.2 1617.3V1631.5M1555.7 1615.8h49M1555.7 1617.4h49M1580.2 1601.6V1615.8M1580.2 1617.4V1631.6M1569.6 1616.2h49M1569.6 1617.8h49M1594.1 1602V1616.2M1594.1 1617.8V1632M1583.6 1617.9h49M1583.6 1619.5h49M1608.1 1603.7V1617.9M1608.1 1619.5V1633.7M1597.6 1620.4h49M1597.6 1622h49M1622.1 1606.2V1620.4M1622.1 1622V1636.2M1611.5 1622.7h49M1611.5 1624.3h49M1636 1608.5V1622.7M1636 1624.3V1638.5M1625.5 1624h49M1625.5 1625.6h49M1650 1609.8V1624M1650 1625.6V1639.8M1639.5 1624.8h49M1639.5 1626.4h49M1664 1610.6V1624.8M1664 1626.4V1640.6M1653.4 1625.5h49M1653.4 1627.1h49M1677.9 1611.3V1625.5M1677.9 1627.1V1641.3M1667.4 1626.1h49M1667.4 1627.7h49M1691.9 1611.9V1626.1M1691.9 1627.7V1641.9M1681.4 1626.6h49M1681.4 1628.2h49M1705.9 1612.4V1626.6M1705.9 1628.2V1642.4M1695.3 1627.1h49M1695.3 1628.7h49M1719.8 1612.9V1627.1M1719.8 1628.7V1642.9M1709.3 1627.5h49M1709.3 1629.1h49M1733.8 1613.3V1627.5M1733.8 1629.1V1643.3M1723.3 1627.9h49M1723.3 1629.5h49M1747.8 1613.7V1627.9M1747.8 1629.5V1643.7M1737.3 1628.2h49M1737.3 1629.8h49M1761.8 1614V1628.2M1761.8 1629.8V1644M1751.2 1628.5h49M1751.2 1630.1h49M1775.7 1614.3V1628.5M1775.7 1630.1V1644.3M1765.2 1628.8h49M1765.2 1630.4h49M1789.7 1614.6V1628.8M1789.7 1630.4V1644.6M1779.2 1629h49M1779.2 1630.6h49M1803.7 1614.8V1629M1803.7 1630.6V1644.8M1793.1 1629.3h49M1793.1 1630.9h49M1817.6 1615.1V1629.3M1817.6 1630.9V1645.1M1807.1 1629.5h49M1807.1 1631.1h49M1831.6 1615.3V1629.5M1831.6 1631.1V1645.3M1821.1 1629.8h49M1821.1 1631.4h49M1845.6 1615.6V1629.8M1845.6 1631.4V1645.6M1835 1630.1h49M1835 1631.7h49M1859.5 1615.9V1630.1M1859.5 1631.7V1645.9M1849 1630.5h49M1849 1632.1h49M1873.5 1616.3V1630.5M1873.5 1632.1V1646.3M1863 1630.8h49M1863 1632.4h49M1887.5 1616.6V1630.8M1887.5 1632.4V1646.6M1876.9 1631.1h49M1876.9 1632.7h49M1901.4 1616.9V1631.1M1901.4 1632.7V1646.9M1890.9 1631.4h49M1890.9 1633h49M1915.4 1617.2V1631.4M1915.4 1633V1647.2M1904.9 1631.7h49M1904.9 1633.3h49M1929.4 1617.5V1631.7M1929.4 1633.3V1647.5M1918.8 1632h49M1918.8 1633.6h49M1943.3 1617.8V1632M1943.3 1633.6V1647.8M1932.8 1632.2h49M1932.8 1633.8h49M1957.3 1618V1632.2M1957.3 1633.8V1648M1946.8 1632.4h49M1946.8 1634h49M1971.3 1618.2V1632.4M1971.3 1634V1648.2M1960.8 1632.5h49M1960.8 1634.1h49M1985.3 1618.3V1632.5M1985.3 1634.1V1648.3M1974.7 1632.6h49M1974.7 1634.2h49M1999.2 1618.4V1632.6M1999.2 1634.2V1648.4M1988.7 1632.7h49M1988.7 1634.3h49M2013.2 1618.5V1632.7M2013.2 1634.3V1648.5M2002.7 1632.8h49M2002.7 1634.4h49M2027.2 1618.6V1632.8M2027.2 1634.4V1648.6M2016.6 1632.9h49M2016.6 1634.5h49M2041.1 1618.7V1632.9M2041.1 1634.5V1648.7M2030.6 1632.9h49M2030.6 1634.5h49M2055.1 1618.7V1632.9M2055.1 1634.5V1648.7M2044.6 1633h49M2044.6 1634.6h49M2069.1 1618.8V1633M2069.1 1634.6V1648.8M2058.5 1633.1h49M2058.5 1634.7h49M2083 1618.9V1633.1M2083 1634.7V1648.9M2072.5 1633.2h49M2072.5 1634.8h49M2097 1619V1633.2M2097 1634.8V1649M2086.5 1633.2h49M2086.5 1634.8h49M2111 1619V1633.2M2111 1634.8V1649M2100.4 1633.3h49M2100.4 1634.9h49M2124.9 1619.1V1633.3M2124.9 1634.9V1649.1M2114.4 1633.4h49M2114.4 1635h49M2138.9 1619.2V1633.4M2138.9 1635V1649.2M2128.4 1633.4h49M2128.4 1635h49M2152.9 1619.2V1633.4M2152.9 1635V1649.2M2142.3 1633.5h49M2142.3 1635.1h49M2166.8 1619.3V1633.5M2166.8 1635.1V1649.3M2156.3 1633.5h49M2156.3 1635.1h49M2180.8 1619.3V1633.5M2180.8 1635.1V1649.3M2170.3 1633.6h49M2170.3 1635.2h49M2194.8 1619.4V1633.6M2194.8 1635.2V1649.4M2184.3 1633.6h49M2184.3 1635.2h49M2208.8 1619.4V1633.6M2208.8 1635.2V1649.4M2198.2 1633.7h49M2198.2 1635.3h49M2222.7 1619.5V1633.7M2222.7 1635.3V1649.5M2212.2 1633.7h49M2212.2 1635.3h49M2236.7 1619.5V1633.7M2236.7 1635.3V1649.5M2226.2 1633.8h49M2226.2 1635.4h49M2250.7 1619.6V1633.8M2250.7 1635.4V1649.6M2240.1 1633.8h49M2240.1 1635.4h49M2264.6 1619.6V1633.8M2264.6 1635.4V1649.6M2254.1 1633.8h49M2254.1 1635.4h49M2278.6 1619.6V1633.8M2278.6 1635.4V1649.6M2268.1 1633.8h49M2268.1 1635.4h49M2292.6 1619.6V1633.8M2292.6 1635.4V1649.6M2282 1633.8h49M2282 1635.4h49M2306.5 1619.6V1633.8M2306.5 1635.4V1649.6M2296 1633.9h49M2296 1635.5h49M2320.5 1619.7V1633.9M2320.5 1635.5V1649.7M2310 1633.9h49M2310 1635.5h49M2334.5 1619.7V1633.9M2334.5 1635.5V1649.7" stroke="#0000ff" stroke-width="1.3" fill="none"/>
</g>
<g clip-path="url(#c2)">
<path d="M352.7 2241.9L368.7 1921.6L384.5 1767.8L404 1769.8L419.9 1904.3L437.5 2098.6L455.2 2227.6L472.9 2330.4L485.3 2362.1L501.2 2314.3L524.2 2258.5L540.1 2195.9L557.8 2141.1L573.6 2162.5L591.3 2183.5L608.9 2213.6L626.6 2270.2L644.3 2319.7L662.1 2344.4L679.8 2385L697.2 2404.6L711.7 2420.4L729.4 2409.8L747 2411.5L763.5 2410.7L796.4 2413.3L814 2413.3L830.1 2415.3L847.3 2416.8L881.6 2423.3L898.8 2423.2L916 2422.7L933.2 2419.7L950.4 2417.7L984.7 2416.8L1053.4 2415.7L1070.6 2415.1L1087.8 2414.1L1122.2 2411.4L1139.3 2410.3L1173.7 2408.6L1190.9 2408.1L1208.1 2408.2L1225.2 2409.7L1242.4 2411.8L1259.6 2413.2L1276.8 2413.1L1294 2412.2L1311.1 2410.8L1328.3 2408.9L1345.5 2404.4L1362.7 2400.7L1379.9 2401.1L1397 2402.6L1414.2 2404.3L1431.4 2405.7L1465.8 2407.8L1517.3 2410.6L1586 2414L1671.9 2418.6L1723.5 2420.9L1843.7 2425.5L1878.1 2426.5L1946.8 2427.4L1964 2427.8L1981.2 2428.4L2049.9 2431.5L2084.2 2432.4L2221.7 2434.5L2341.9 2436" fill="none" stroke="#0000ff" stroke-width="7" stroke-linejoin="round"/>
<use href="#b" x="352.7" y="2241.9"/>
<use href="#b" x="368.7" y="1921.6"/>
<use href="#b" x="384.5" y="1767.8"/>
<use href="#b" x="404" y="1769.8"/>
<use href="#b" x="419.9" y="1904.3"/>
<use href="#b" x="437.5" y="2098.6"/>
<use href="#b" x="455.2" y="2227.6"/>
<use href="#b" x="472.9" y="2330.4"/>
<use href="#b" x="485.3" y="2362.1"/>
<use href="#b" x="501.2" y="2314.3"/>
<use href="#b" x="524.2" y="2258.5"/>
<use href="#b" x="540.1" y="2195.9"/>
<use href="#b" x="557.8" y="2141.1"/>
<use href="#b" x="573.6" y="2162.5"/>
<use href="#b" x="591.3" y="2183.5"/>
<use href="#b" x="608.9" y="2213.6"/>
<use href="#b" x="626.6" y="2270.2"/>
<use href="#b" x="644.3" y="2319.7"/>
<use href="#b" x="662.1" y="2344.4"/>
<use href="#b" x="679.8" y="2385"/>
<use href="#b" x="697.2" y="2404.6"/>
<use href="#b" x="711.7" y="2420.4"/>
<use href="#b" x="729.4" y="2409.8"/>
<use href="#b" x="747" y="2411.5"/>
<use href="#b" x="763.5" y="2410.7"/>
<use href="#b" x="779.5" y="2412"/>
<use href="#b" x="796.4" y="2413.3"/>
<use href="#b" x="814" y="2413.3"/>
<use href="#b" x="830.1" y="2415.3"/>
<use href="#b" x="847.3" y="2416.8"/>
<use href="#b" x="864.5" y="2420"/>
<use href="#b" x="881.6" y="2423.3"/>
<use href="#b" x="898.8" y="2423.2"/>
<use href="#b" x="916" y="2422.7"/>
<use href="#b" x="933.2" y="2419.7"/>
<use href="#b" x="950.4" y="2417.7"/>
<use href="#b" x="967.5" y="2417.2"/>
<use href="#b" x="984.7" y="2416.8"/>
<use href="#b" x="1001.9" y="2416.5"/>
<use href="#b" x="1019.1" y="2416.3"/>
<use href="#b" x="1036.3" y="2416"/>
<use href="#b" x="1053.4" y="2415.7"/>
<use href="#b" x="1070.6" y="2415.1"/>
<use href="#b" x="1087.8" y="2414.1"/>
<use href="#b" x="1105" y="2412.7"/>
<use href="#b" x="1122.2" y="2411.4"/>
<use href="#b" x="1139.3" y="2410.3"/>
<use href="#b" x="1156.5" y="2409.4"/>
<use href="#b" x="1173.7" y="2408.6"/>
<use href="#b" x="1190.9" y="2408.1"/>
<use href="#b" x="1208.1" y="2408.2"/>
<use href="#b" x="1225.2" y="2409.7"/>
<use href="#b" x="1242.4" y="2411.8"/>
<use href="#b" x="1259.6" y="2413.2"/>
<use href="#b" x="1276.8" y="2413.1"/>
<use href="#b" x="1294" y="2412.2"/>
<use href="#b" x="1311.1" y="2410.8"/>
<use href="#b" x="1328.3" y="2408.9"/>
<use href="#b" x="1345.5" y="2404.4"/>
<use href="#b" x="1362.7" y="2400.7"/>
<use href="#b" x="1379.9" y="2401.1"/>
<use href="#b" x="1397" y="2402.6"/>
<use href="#b" x="1414.2" y="2404.3"/>
<use href="#b" x="1431.4" y="2405.7"/>
<use href="#b" x="1448.6" y="2406.8"/>
<use href="#b" x="1465.8" y="2407.8"/>
<use href="#b" x="1482.9" y="2408.7"/>
<use href="#b" x="1500.1" y="2409.7"/>
<use href="#b" x="1517.3" y="2410.6"/>
<use href="#b" x="1534.5" y="2411.4"/>
<use href="#b" x="1551.7" y="2412.3"/>
<use href="#b" x="1568.8" y="2413.1"/>
<use href="#b" x="1586" y="2414"/>
<use href="#b" x="1603.2" y="2414.9"/>
<use href="#b" x="1620.4" y="2415.8"/>
<use href="#b" x="1637.6" y="2416.8"/>
<use href="#b" x="1654.7" y="2417.7"/>
<use href="#b" x="1671.9" y="2418.6"/>
<use href="#b" x="1689.1" y="2419.5"/>
<use href="#b" x="1706.3" y="2420.2"/>
<use href="#b" x="1723.5" y="2420.9"/>
<use href="#b" x="1740.6" y="2421.6"/>
<use href="#b" x="1757.8" y="2422.3"/>
<use href="#b" x="1775" y="2422.9"/>
<use href="#b" x="1792.2" y="2423.6"/>
<use href="#b" x="1809.4" y="2424.2"/>
<use href="#b" x="1826.5" y="2424.9"/>
<use href="#b" x="1843.7" y="2425.5"/>
<use href="#b" x="1860.9" y="2426.1"/>
<use href="#b" x="1878.1" y="2426.5"/>
<use href="#b" x="1895.3" y="2426.8"/>
<use href="#b" x="1912.4" y="2427"/>
<use href="#b" x="1929.6" y="2427.2"/>
<use href="#b" x="1946.8" y="2427.4"/>
<use href="#b" x="1964" y="2427.8"/>
<use href="#b" x="1981.2" y="2428.4"/>
<use href="#b" x="1998.3" y="2429.2"/>
<use href="#b" x="2015.5" y="2430"/>
<use href="#b" x="2032.7" y="2430.8"/>
<use href="#b" x="2049.9" y="2431.5"/>
<use href="#b" x="2067.1" y="2432"/>
<use href="#b" x="2084.2" y="2432.4"/>
<use href="#b" x="2101.4" y="2432.7"/>
<use href="#b" x="2118.6" y="2433"/>
<use href="#b" x="2135.8" y="2433.3"/>
<use href="#b" x="2153" y="2433.6"/>
<use href="#b" x="2170.1" y="2433.8"/>
<use href="#b" x="2187.3" y="2434.1"/>
<use href="#b" x="2204.5" y="2434.3"/>
<use href="#b" x="2221.7" y="2434.5"/>
<use href="#b" x="2238.9" y="2434.8"/>
<use href="#b" x="2256" y="2435"/>
<use href="#b" x="2273.2" y="2435.2"/>
<use href="#b" x="2290.4" y="2435.4"/>
<use href="#b" x="2307.6" y="2435.6"/>
<use href="#b" x="2324.8" y="2435.8"/>
<use href="#b" x="2341.9" y="2436"/>
<path d="M345.2 2311.6L358.6 2091.3L365.3 1977.2L367.8 1939.1L369.4 1917.5L371.9 1891L376.1 1853.1L379.5 1825.4L382.8 1801.8L385.3 1787.6L387.8 1777.4L389.5 1773.1L390.3 1771.8L391.2 1771.1L392 1770.9L392.8 1771.4L393.7 1772.4L394.5 1774L396.2 1778.7L398.7 1789.3L401.2 1803.5L403.7 1820.5L406.2 1839.5L414.5 1909L416.2 1925.1L418.7 1952.7L428.7 2078.6L437.9 2181.6L443.8 2242.7L446.3 2265.8L448.8 2286.3L452.1 2310L459.6 2359.6L463 2379.9L466.3 2397.9L469.7 2412.7L472.2 2421.2L473.8 2425.4L475.5 2428.3L476.3 2429.3L477.2 2429.9L478 2430.2L478.9 2430.1L479.7 2429.9L480.5 2429.4L482.2 2427.7L484.7 2423.9L487.2 2418.7L489.7 2412.4L492.2 2405.4L501.4 2377.2L503.9 2368.4L506.4 2358.6L517.3 2311.2L531.5 2254L537.3 2232L539.8 2223.5L542.3 2215.9L544.8 2209.2L548.2 2201.7L552.4 2194L556.5 2187.4L559.9 2183L562.4 2180.5L564 2179.2L565.7 2178.3L568.2 2177.8L570.7 2178.3L573.2 2179.7L576.6 2182.6L579.9 2186.5L584.1 2192.2L588.3 2198.8L591.6 2204.9L595 2211.9L600 2223.8L605 2237.1L621.7 2284.8L644.2 2347.3L647.6 2355.9L650.9 2363.8L654.3 2370.9L657.6 2377.4L663.4 2387.2L671.8 2399.5L679.3 2409.4L683.5 2414.4L686.8 2418L692.7 2423.5L696 2426.1L698.5 2427.7L701 2429.1L703.5 2430.1L706 2431L709.4 2431.6L711.9 2431.9L715.2 2431.9L718.6 2431.6L721.9 2431.1L729.4 2429.2L736.9 2426.5L745.3 2422.7L754.5 2417.8L764.5 2411.9L792.1 2394.9L801.3 2389.8L808.8 2386.1L818 2382.4L826.3 2379.9L833.8 2378.6L838 2378.3L842.2 2378.2L850.5 2378.6L859.7 2379.7L869.8 2381.5L880.6 2384.1L889.8 2386.8L900.7 2390.2L936.6 2402.8L950.8 2407.5L965.8 2411.8L979.2 2414.7L990.9 2416.5L1010.9 2419.1L1034.3 2421.8L1056 2424.1L1073.6 2425.7L1091.1 2427.1L1107.8 2428.2L1123.7 2428.9L1170.4 2430L1255.6 2431.2L1340 2432.1L1440.2 2432.8L1740.1 2434.4L1963.9 2435.3L2165.2 2435.9L2349 2436.1" fill="none" stroke="#ff0000" stroke-width="13" stroke-linejoin="round"/>
<path d="M346 2364.5L355 2203.3L362 2088L366 2027.9L369 1986.1L372 1947.6L375 1912.4L379 1871.2L382 1844.7L385 1822.1L387.9 1803.6L390.9 1789.1L391.9 1785.1L393.9 1778.6L394.9 1776.1L396.9 1772.2L397.9 1771L398.9 1770.2L399.9 1769.8L400.9 1769.9L401.9 1770.4L402.9 1771.3L404.9 1774.3L405.9 1776.4L407.9 1781.8L410.9 1792.8L412.9 1802L415.9 1818.2L418.9 1837.2L421.9 1858.8L426.9 1899.7L432.9 1955L451.9 2148.4L459.8 2225.4L463.8 2260.8L467.8 2293.4L471.8 2323L474.8 2343.1L478.8 2366.9L481.8 2382.4L485.8 2400L489.8 2414.2L492.8 2422.5L494.8 2427.1L496.8 2430.8L498.8 2433.8L500.8 2436L502.8 2437.6L504.8 2438.5L505.8 2438.7L507.8 2438.7L509.8 2438.1L511.8 2437L514.8 2434.5L518.8 2429.7L521.7 2425.4L525.7 2418.7L537.7 2396.7L542.7 2388L547.7 2380.4L551.7 2375.4L555.7 2371.4L557.7 2369.8L559.7 2368.5L562.7 2367.2L564.7 2366.7L566.7 2366.5L568.7 2366.6L570.7 2367L572.7 2367.7L575.7 2369.3L579.7 2372.3L584.6 2377.3L588.6 2382.1L592.6 2387.5L607.6 2409.7L612.6 2416.7L618.6 2424.1L623.6 2429.4L628.6 2433.5L631.6 2435.4L633.6 2436.5L637.6 2437.9L639.6 2438.4L642.6 2438.7L645.6 2438.7L649.6 2438L653.5 2436.7L657.5 2434.9L664.5 2430.9L682.5 2418.8L687.5 2415.9L691.5 2414L695.5 2412.5L699.5 2411.5L703.5 2410.9L706.5 2410.8L710.5 2411L714.5 2411.8L718.4 2412.9L723.4 2414.8L731.4 2418.9L751.4 2430.6L756.4 2433.2L761.4 2435.3L766.4 2437L770.4 2437.9L774.4 2438.5L778.4 2438.7L782.3 2438.6L786.3 2438.2L790.3 2437.5L794.3 2436.6L801.3 2434.5L819.3 2428.2L828.3 2425.7L836.3 2424.3L843.3 2423.9L847.2 2424L851.2 2424.4L855.2 2425L860.2 2426.1L868.2 2428.2L888.2 2434.6L897.2 2436.9L906.2 2438.3L914.1 2438.7L921.1 2438.5L928.1 2437.7L936.1 2436.3L952.5 2432.8L961 2431.2L969.4 2430L977.9 2429.6L986.3 2429.8L994.8 2430.7L1003.2 2432.1L1022.9 2436L1031.4 2437.4L1039.8 2438.3L1048.3 2438.7L1056.7 2438.6L1065.2 2437.9L1093.3 2434L1101.8 2433.1L1110.2 2432.6L1115.8 2432.5L1124.3 2432.8L1132.7 2433.5L1160.9 2437.2L1169.3 2438.1L1177.8 2438.6L1183.4 2438.7L1189 2438.7L1197.5 2438.3L1205.9 2437.7L1234.1 2434.9L1242.5 2434.4L1251 2434.2L1265.1 2434.7L1301.7 2438L1310.1 2438.5L1318.6 2438.7L1332.6 2438.4L1369.2 2435.8L1377.7 2435.4L1386.1 2435.3L1400.2 2435.7L1436.8 2438.2L1453.7 2438.7L1467.8 2438.5L1504.4 2436.5L1521.3 2436.1L1535.3 2436.3L1571.9 2438.3L1588.8 2438.7L1602.9 2438.6L1639.5 2436.9L1656.4 2436.6L1670.5 2436.8L1707.1 2438.4L1724 2438.7L1738.1 2438.6L1774.7 2437.2L1791.5 2437L1805.6 2437.1L1842.2 2438.5L1859.1 2438.7L1873.2 2438.6L1909.8 2437.5L1926.7 2437.3L1940.8 2437.4L1977.4 2438.5L1994.3 2438.7L2011.1 2438.6L2042.1 2437.7L2059 2437.5L2075.9 2437.6L2112.5 2438.6L2129.4 2438.7L2146.3 2438.6L2194.2 2437.7L2211 2437.8L2247.6 2438.6L2264.5 2438.7L2281.4 2438.6L2323.7 2437.8L2349 2437.9" fill="none" stroke="#000" stroke-width="7.5" stroke-linejoin="round"/>
<path d="M328.2 2239.9h49M328.2 2243.8h49M352.7 2226.9V2239.9M352.7 2243.8V2256.9M344.2 1916.5h49M344.2 1926.7h49M368.7 1906.6V1916.5M368.7 1926.7V1936.6M360 1761.2h49M360 1774.4h49M384.5 1752.8V1761.2M384.5 1774.4V1782.8M379.5 1763.2h49M379.5 1776.4h49M404 1754.8V1763.2M404 1776.4V1784.8M395.4 1899h49M395.4 1909.5h49M419.9 1889.3V1899M419.9 1909.5V1919.3M413 2095.2h49M413 2101.9h49M437.5 2083.6V2095.2M437.5 2101.9V2113.6M430.7 2225.5h49M430.7 2229.7h49M455.2 2212.6V2225.5M455.2 2229.7V2242.6M448.4 2329.3h49M448.4 2331.4h49M472.9 2315.4V2329.3M472.9 2331.4V2345.4M460.8 2361.3h49M460.8 2362.9h49M485.3 2347.1V2361.3M485.3 2362.9V2377.1M476.7 2313.1h49M476.7 2315.6h49M501.2 2299.3V2313.1M501.2 2315.6V2329.3M499.7 2256.7h49M499.7 2260.2h49M524.2 2243.5V2256.7M524.2 2260.2V2273.5M515.6 2193.5h49M515.6 2198.3h49M540.1 2180.9V2193.5M540.1 2198.3V2210.9M533.3 2138.1h49M533.3 2144h49M557.8 2126.1V2138.1M557.8 2144V2156.1M549.1 2159.7h49M549.1 2165.2h49M573.6 2147.5V2159.7M573.6 2165.2V2177.5M566.8 2181h49M566.8 2186h49M591.3 2168.5V2181M591.3 2186V2198.5M584.4 2211.4h49M584.4 2215.8h49M608.9 2198.6V2211.4M608.9 2215.8V2228.6M602.1 2268.5h49M602.1 2271.8h49M626.6 2255.2V2268.5M626.6 2271.8V2285.2M619.8 2318.5h49M619.8 2320.9h49M644.3 2304.7V2318.5M644.3 2320.9V2334.7M637.6 2343.5h49M637.6 2345.4h49M662.1 2329.4V2343.5M662.1 2345.4V2359.4M655.3 2384.2h49M655.3 2385.8h49M679.8 2370V2384.2M679.8 2385.8V2400M672.7 2403.8h49M672.7 2405.4h49M697.2 2389.6V2403.8M697.2 2405.4V2419.6M687.2 2419.6h49M687.2 2421.2h49M711.7 2405.4V2419.6M711.7 2421.2V2435.4M704.9 2409h49M704.9 2410.6h49M729.4 2394.8V2409M729.4 2410.6V2424.8M722.5 2410.7h49M722.5 2412.3h49M747 2396.5V2410.7M747 2412.3V2426.5M739 2409.9h49M739 2411.5h49M763.5 2395.7V2409.9M763.5 2411.5V2425.7M755 2411.2h49M755 2412.8h49M779.5 2397V2411.2M779.5 2412.8V2427M771.9 2412.5h49M771.9 2414.1h49M796.4 2398.3V2412.5M796.4 2414.1V2428.3M789.5 2412.5h49M789.5 2414.1h49M814 2398.3V2412.5M814 2414.1V2428.3M805.6 2414.5h49M805.6 2416.1h49M830.1 2400.3V2414.5M830.1 2416.1V2430.3M822.8 2416h49M822.8 2417.6h49M847.3 2401.8V2416M847.3 2417.6V2431.8M840 2419.2h49M840 2420.8h49M864.5 2405V2419.2M864.5 2420.8V2435M857.1 2422.5h49M857.1 2424.1h49M881.6 2408.3V2422.5M881.6 2424.1V2438.3M874.3 2422.4h49M874.3 2424h49M898.8 2408.2V2422.4M898.8 2424V2438.2M891.5 2421.9h49M891.5 2423.5h49M916 2407.7V2421.9M916 2423.5V2437.7M908.7 2418.9h49M908.7 2420.5h49M933.2 2404.7V2418.9M933.2 2420.5V2434.7M925.9 2416.9h49M925.9 2418.5h49M950.4 2402.7V2416.9M950.4 2418.5V2432.7M943 2416.4h49M943 2418h49M967.5 2402.2V2416.4M967.5 2418V2432.2M960.2 2416h49M960.2 2417.6h49M984.7 2401.8V2416M984.7 2417.6V2431.8M977.4 2415.7h49M977.4 2417.3h49M1001.9 2401.5V2415.7M1001.9 2417.3V2431.5M994.6 2415.5h49M994.6 2417.1h49M1019.1 2401.3V2415.5M1019.1 2417.1V2431.3M1011.8 2415.2h49M1011.8 2416.8h49M1036.3 2401V2415.2M1036.3 2416.8V2431M1028.9 2414.9h49M1028.9 2416.5h49M1053.4 2400.7V2414.9M1053.4 2416.5V2430.7M1046.1 2414.3h49M1046.1 2415.9h49M1070.6 2400.1V2414.3M1070.6 2415.9V2430.1M1063.3 2413.3h49M1063.3 2414.9h49M1087.8 2399.1V2413.3M1087.8 2414.9V2429.1M1080.5 2411.9h49M1080.5 2413.5h49M1105 2397.7V2411.9M1105 2413.5V2427.7M1097.7 2410.6h49M1097.7 2412.2h49M1122.2 2396.4V2410.6M1122.2 2412.2V2426.4M1114.8 2409.5h49M1114.8 2411.1h49M1139.3 2395.3V2409.5M1139.3 2411.1V2425.3M1132 2408.6h49M1132 2410.2h49M1156.5 2394.4V2408.6M1156.5 2410.2V2424.4M1149.2 2407.8h49M1149.2 2409.4h49M1173.7 2393.6V2407.8M1173.7 2409.4V2423.6M1166.4 2407.3h49M1166.4 2408.9h49M1190.9 2393.1V2407.3M1190.9 2408.9V2423.1M1183.6 2407.4h49M1183.6 2409h49M1208.1 2393.2V2407.4M1208.1 2409V2423.2M1200.7 2408.9h49M1200.7 2410.5h49M1225.2 2394.7V2408.9M1225.2 2410.5V2424.7M1217.9 2411h49M1217.9 2412.6h49M1242.4 2396.8V2411M1242.4 2412.6V2426.8M1235.1 2412.4h49M1235.1 2414h49M1259.6 2398.2V2412.4M1259.6 2414V2428.2M1252.3 2412.3h49M1252.3 2413.9h49M1276.8 2398.1V2412.3M1276.8 2413.9V2428.1M1269.5 2411.4h49M1269.5 2413h49M1294 2397.2V2411.4M1294 2413V2427.2M1286.6 2410h49M1286.6 2411.6h49M1311.1 2395.8V2410M1311.1 2411.6V2425.8M1303.8 2408.1h49M1303.8 2409.7h49M1328.3 2393.9V2408.1M1328.3 2409.7V2423.9M1321 2403.6h49M1321 2405.2h49M1345.5 2389.4V2403.6M1345.5 2405.2V2419.4M1338.2 2399.9h49M1338.2 2401.5h49M1362.7 2385.7V2399.9M1362.7 2401.5V2415.7M1355.4 2400.3h49M1355.4 2401.9h49M1379.9 2386.1V2400.3M1379.9 2401.9V2416.1M1372.5 2401.8h49M1372.5 2403.4h49M1397 2387.6V2401.8M1397 2403.4V2417.6M1389.7 2403.5h49M1389.7 2405.1h49M1414.2 2389.3V2403.5M1414.2 2405.1V2419.3M1406.9 2404.9h49M1406.9 2406.5h49M1431.4 2390.7V2404.9M1431.4 2406.5V2420.7M1424.1 2406h49M1424.1 2407.6h49M1448.6 2391.8V2406M1448.6 2407.6V2421.8M1441.3 2407h49M1441.3 2408.6h49M1465.8 2392.8V2407M1465.8 2408.6V2422.8M1458.4 2407.9h49M1458.4 2409.5h49M1482.9 2393.7V2407.9M1482.9 2409.5V2423.7M1475.6 2408.9h49M1475.6 2410.5h49M1500.1 2394.7V2408.9M1500.1 2410.5V2424.7M1492.8 2409.8h49M1492.8 2411.4h49M1517.3 2395.6V2409.8M1517.3 2411.4V2425.6M1510 2410.6h49M1510 2412.2h49M1534.5 2396.4V2410.6M1534.5 2412.2V2426.4M1527.2 2411.5h49M1527.2 2413.1h49M1551.7 2397.3V2411.5M1551.7 2413.1V2427.3M1544.3 2412.3h49M1544.3 2413.9h49M1568.8 2398.1V2412.3M1568.8 2413.9V2428.1M1561.5 2413.2h49M1561.5 2414.8h49M1586 2399V2413.2M1586 2414.8V2429M1578.7 2414.1h49M1578.7 2415.7h49M1603.2 2399.9V2414.1M1603.2 2415.7V2429.9M1595.9 2415h49M1595.9 2416.6h49M1620.4 2400.8V2415M1620.4 2416.6V2430.8M1613.1 2416h49M1613.1 2417.6h49M1637.6 2401.8V2416M1637.6 2417.6V2431.8M1630.2 2416.9h49M1630.2 2418.5h49M1654.7 2402.7V2416.9M1654.7 2418.5V2432.7M1647.4 2417.8h49M1647.4 2419.4h49M1671.9 2403.6V2417.8M1671.9 2419.4V2433.6M1664.6 2418.7h49M1664.6 2420.3h49M1689.1 2404.5V2418.7M1689.1 2420.3V2434.5M1681.8 2419.4h49M1681.8 2421h49M1706.3 2405.2V2419.4M1706.3 2421V2435.2M1699 2420.1h49M1699 2421.7h49M1723.5 2405.9V2420.1M1723.5 2421.7V2435.9M1716.1 2420.8h49M1716.1 2422.4h49M1740.6 2406.6V2420.8M1740.6 2422.4V2436.6M1733.3 2421.5h49M1733.3 2423.1h49M1757.8 2407.3V2421.5M1757.8 2423.1V2437.3M1750.5 2422.1h49M1750.5 2423.7h49M1775 2407.9V2422.1M1775 2423.7V2437.9M1767.7 2422.8h49M1767.7 2424.4h49M1792.2 2408.6V2422.8M1792.2 2424.4V2438.6M1784.9 2423.4h49M1784.9 2425h49M1809.4 2409.2V2423.4M1809.4 2425V2439.2M1802 2424.1h49M1802 2425.7h49M1826.5 2409.9V2424.1M1826.5 2425.7V2439.9M1819.2 2424.7h49M1819.2 2426.3h49M1843.7 2410.5V2424.7M1843.7 2426.3V2440.5M1836.4 2425.3h49M1836.4 2426.9h49M1860.9 2411.1V2425.3M1860.9 2426.9V2441.1M1853.6 2425.7h49M1853.6 2427.3h49M1878.1 2411.5V2425.7M1878.1 2427.3V2441.5M1870.8 2426h49M1870.8 2427.6h49M1895.3 2411.8V2426M1895.3 2427.6V2441.8M1887.9 2426.2h49M1887.9 2427.8h49M1912.4 2412V2426.2M1912.4 2427.8V2442M1905.1 2426.4h49M1905.1 2428h49M1929.6 2412.2V2426.4M1929.6 2428V2442.2M1922.3 2426.6h49M1922.3 2428.2h49M1946.8 2412.4V2426.6M1946.8 2428.2V2442.4M1939.5 2427h49M1939.5 2428.6h49M1964 2412.8V2427M1964 2428.6V2442.8M1956.7 2427.6h49M1956.7 2429.2h49M1981.2 2413.4V2427.6M1981.2 2429.2V2443.4M1973.8 2428.4h49M1973.8 2430h49M1998.3 2414.2V2428.4M1998.3 2430V2444.2M1991 2429.2h49M1991 2430.8h49M2015.5 2415V2429.2M2015.5 2430.8V2445M2008.2 2430h49M2008.2 2431.6h49M2032.7 2415.8V2430M2032.7 2431.6V2445.8M2025.4 2430.7h49M2025.4 2432.3h49M2049.9 2416.5V2430.7M2049.9 2432.3V2446.5M2042.6 2431.2h49M2042.6 2432.8h49M2067.1 2417V2431.2M2067.1 2432.8V2447M2059.7 2431.6h49M2059.7 2433.2h49M2084.2 2417.4V2431.6M2084.2 2433.2V2447.4M2076.9 2431.9h49M2076.9 2433.5h49M2101.4 2417.7V2431.9M2101.4 2433.5V2447.7M2094.1 2432.2h49M2094.1 2433.8h49M2118.6 2418V2432.2M2118.6 2433.8V2448M2111.3 2432.5h49M2111.3 2434.1h49M2135.8 2418.3V2432.5M2135.8 2434.1V2448.3M2128.5 2432.8h49M2128.5 2434.4h49M2153 2418.6V2432.8M2153 2434.4V2448.6M2145.6 2433h49M2145.6 2434.6h49M2170.1 2418.8V2433M2170.1 2434.6V2448.8M2162.8 2433.3h49M2162.8 2434.9h49M2187.3 2419.1V2433.3M2187.3 2434.9V2449.1M2180 2433.5h49M2180 2435.1h49M2204.5 2419.3V2433.5M2204.5 2435.1V2449.3M2197.2 2433.7h49M2197.2 2435.3h49M2221.7 2419.5V2433.7M2221.7 2435.3V2449.5M2214.4 2434h49M2214.4 2435.6h49M2238.9 2419.8V2434M2238.9 2435.6V2449.8M2231.5 2434.2h49M2231.5 2435.8h49M2256 2420V2434.2M2256 2435.8V2450M2248.7 2434.4h49M2248.7 2436h49M2273.2 2420.2V2434.4M2273.2 2436V2450.2M2265.9 2434.6h49M2265.9 2436.2h49M2290.4 2420.4V2434.6M2290.4 2436.2V2450.4M2283.1 2434.8h49M2283.1 2436.4h49M2307.6 2420.6V2434.8M2307.6 2436.4V2450.6M2300.3 2435h49M2300.3 2436.6h49M2324.8 2420.8V2435M2324.8 2436.6V2450.8M2317.4 2435.2h49M2317.4 2436.8h49M2341.9 2421V2435.2M2341.9 2436.8V2451" stroke="#0000ff" stroke-width="1.3" fill="none"/>
</g>
<g clip-path="url(#c3)">
<path d="M354 3046.8L379.6 2734.4L402.9 2567.2L426.3 2600L453.8 2719.7L477.1 2923.4L501.8 3085.6L523.8 3150.5L551.4 3139.8L575.6 3079.3L600.1 3011.4L623.4 2961.9L649.1 2952L673.2 2993.6L696.8 3041.1L722.5 3097.5L746.6 3152.7L771.9 3199.4L793.2 3222.8L818.9 3229.1L842.1 3219.4L892.7 3199.4L916.4 3188L940.9 3188L965.4 3194L989.1 3191.3L1014.3 3201.4L1036.8 3209.4L1062.5 3216.3L1087.8 3215.4L1110.7 3214.1L1136 3210.7L1161.7 3205L1184.1 3202.2L1208.6 3195.5L1232.3 3195.5L1257.6 3188.7L1283.3 3188.7L1308.6 3190L1333.1 3184.2L1382.4 3188L1407.7 3188.7L1432.2 3190L1456.3 3188L1478.8 3195.3L1530.1 3195.3L1554.7 3199.5L1579.2 3201.1L1603.7 3201.7L1652.8 3202.4L1677.3 3203.3L1701.8 3206.2L1726.3 3208.7L1750.9 3209.7L1799.9 3211.2L1824.5 3213.2L1849 3216.2L1873.5 3218.6L1898 3220.6L1922.6 3222.3L1947.1 3223.6L1971.6 3224.5L2143.3 3229.4L2167.8 3230.4L2241.4 3234L2290.4 3235.3L2339.5 3236.1" fill="none" stroke="#0000ff" stroke-width="1.2" stroke-linejoin="round"/>
<use href="#b" x="354" y="3046.8"/>
<use href="#b" x="379.6" y="2734.4"/>
<use href="#b" x="402.9" y="2567.2"/>
<use href="#b" x="426.3" y="2600"/>
<use href="#b" x="453.8" y="2719.7"/>
<use href="#b" x="477.1" y="2923.4"/>
<use href="#b" x="501.8" y="3085.6"/>
<use href="#b" x="523.8" y="3150.5"/>
<use href="#b" x="551.4" y="3139.8"/>
<use href="#b" x="575.6" y="3079.3"/>
<use href="#b" x="600.1" y="3011.4"/>
<use href="#b" x="623.4" y="2961.9"/>
<use href="#b" x="649.1" y="2952"/>
<use href="#b" x="673.2" y="2993.6"/>
<use href="#b" x="696.8" y="3041.1"/>
<use href="#b" x="722.5" y="3097.5"/>
<use href="#b" x="746.6" y="3152.7"/>
<use href="#b" x="771.9" y="3199.4"/>
<use href="#b" x="793.2" y="3222.8"/>
<use href="#b" x="818.9" y="3229.1"/>
<use href="#b" x="842.1" y="3219.4"/>
<use href="#b" x="867.4" y="3209.4"/>
<use href="#b" x="892.7" y="3199.4"/>
<use href="#b" x="916.4" y="3188"/>
<use href="#b" x="940.9" y="3188"/>
<use href="#b" x="965.4" y="3194"/>
<use href="#b" x="989.1" y="3191.3"/>
<use href="#b" x="1014.3" y="3201.4"/>
<use href="#b" x="1036.8" y="3209.4"/>
<use href="#b" x="1062.5" y="3216.3"/>
<use href="#b" x="1087.8" y="3215.4"/>
<use href="#b" x="1110.7" y="3214.1"/>
<use href="#b" x="1136" y="3210.7"/>
<use href="#b" x="1161.7" y="3205"/>
<use href="#b" x="1184.1" y="3202.2"/>
<use href="#b" x="1208.6" y="3195.5"/>
<use href="#b" x="1232.3" y="3195.5"/>
<use href="#b" x="1257.6" y="3188.7"/>
<use href="#b" x="1283.3" y="3188.7"/>
<use href="#b" x="1308.6" y="3190"/>
<use href="#b" x="1333.1" y="3184.2"/>
<use href="#b" x="1356.7" y="3186"/>
<use href="#b" x="1382.4" y="3188"/>
<use href="#b" x="1407.7" y="3188.7"/>
<use href="#b" x="1432.2" y="3190"/>
<use href="#b" x="1456.3" y="3188"/>
<use href="#b" x="1478.8" y="3195.3"/>
<use href="#b" x="1504.5" y="3195.3"/>
<use href="#b" x="1530.1" y="3195.3"/>
<use href="#b" x="1554.7" y="3199.5"/>
<use href="#b" x="1579.2" y="3201.1"/>
<use href="#b" x="1603.7" y="3201.7"/>
<use href="#b" x="1628.2" y="3202"/>
<use href="#b" x="1652.8" y="3202.4"/>
<use href="#b" x="1677.3" y="3203.3"/>
<use href="#b" x="1701.8" y="3206.2"/>
<use href="#b" x="1726.3" y="3208.7"/>
<use href="#b" x="1750.9" y="3209.7"/>
<use href="#b" x="1775.4" y="3210.3"/>
<use href="#b" x="1799.9" y="3211.2"/>
<use href="#b" x="1824.5" y="3213.2"/>
<use href="#b" x="1849" y="3216.2"/>
<use href="#b" x="1873.5" y="3218.6"/>
<use href="#b" x="1898" y="3220.6"/>
<use href="#b" x="1922.6" y="3222.3"/>
<use href="#b" x="1947.1" y="3223.6"/>
<use href="#b" x="1971.6" y="3224.5"/>
<use href="#b" x="1996.1" y="3225.2"/>
<use href="#b" x="2020.7" y="3225.9"/>
<use href="#b" x="2045.2" y="3226.6"/>
<use href="#b" x="2069.7" y="3227.3"/>
<use href="#b" x="2094.2" y="3227.9"/>
<use href="#b" x="2118.8" y="3228.6"/>
<use href="#b" x="2143.3" y="3229.4"/>
<use href="#b" x="2167.8" y="3230.4"/>
<use href="#b" x="2192.3" y="3231.7"/>
<use href="#b" x="2216.9" y="3232.9"/>
<use href="#b" x="2241.4" y="3234"/>
<use href="#b" x="2265.9" y="3234.7"/>
<use href="#b" x="2290.4" y="3235.3"/>
<use href="#b" x="2315" y="3235.8"/>
<use href="#b" x="2339.5" y="3236.1"/>
<path d="M346 3194.7L348.5 3124L351 3060.7L353.5 3002.4L356 2950.1L358.5 2904L361 2864.2L363.5 2829.8L366.9 2790L371.1 2746.7L376.1 2699.6L379.4 2672.1L381.9 2654.9L388.6 2616.5L391.1 2603.5L393.6 2592.1L396.1 2582.9L397.8 2578.2L399.4 2575.1L400.3 2574.1L401.1 2573.5L402 2573.4L402.8 2573.8L403.6 2574.6L404.5 2575.8L406.1 2579.6L407.8 2584.8L410.3 2595L412.8 2607.2L415.3 2620.8L421.2 2653.7L423.7 2668.9L426.2 2685.9L429.5 2710.8L436.2 2763L440.4 2797.4L445.4 2842.4L452.9 2917.8L457.9 2961.4L463.7 3007.3L472.9 3074.3L477.1 3103L481.3 3129.8L494.6 3207.4L497.1 3219.6L499.6 3229L501.3 3233.1L502.1 3234.5L503 3235.5L503.8 3236L504.6 3236.2L505.5 3236L506.3 3235.5L508 3233.7L509.7 3230.9L511.3 3227.4L513 3223.1L516.3 3212.5L519.7 3199.6L523.9 3181.1L528.9 3156.6L533.9 3130.7L538 3106.4L542.2 3078.8L566.4 2906.5L572.3 2867L577.3 2835.8L583.1 2802.1L588.1 2775.1L592.3 2754.8L595.7 2740.6L599 2728.4L602.3 2718.2L606.5 2708L610.7 2700L613.2 2696.2L614.9 2694.1L617.4 2691.7L619 2690.6L620.7 2690L622.4 2689.8L624 2690.2L626.5 2691.4L628.2 2692.8L630.7 2695.5L632.4 2697.7L634.9 2701.6L639.1 2709.6L643.2 2719.6L647.4 2731.7L651.6 2745.8L655.8 2761.5L659.1 2775.3L663.3 2793.8L673.3 2841.8L688.3 2917.5L709.2 3025.6L716.7 3062.5L721.7 3085.1L727.6 3109.3L733.4 3131.5L740.1 3154.8L745.9 3173.1L751 3186.6L756 3197.9L761.8 3208.9L765.1 3214.3L768.5 3219.3L771.8 3223.8L775.2 3227.7L778.5 3231L781.8 3233.6L784.3 3235.1L787.7 3236.5L789.4 3236.9L791.9 3237.3L796 3237L800.2 3235.9L805.2 3233.7L811.1 3230.2L816.9 3225.9L823.6 3220.2L829.4 3214.6L832.8 3210.9L836.1 3206.8L842 3198.7L847 3190.9L862 3166.1L867 3158.5L872.9 3150.2L878.7 3142.5L885.4 3134.4L891.2 3128L896.2 3123.2L900.4 3119.8L905.4 3116.3L910.4 3113.3L916.3 3110.4L921.3 3108.4L926.3 3106.9L931.3 3106L935.5 3105.7L939.6 3106L943.8 3106.7L948 3107.9L953 3109.8L958 3112.1L963 3114.9L967.2 3117.7L971.4 3121L977.2 3126.6L990.6 3140.6L1011.4 3161.8L1050.7 3203.2L1060.7 3212.8L1064.9 3216.4L1069.1 3219.6L1074.1 3222.9L1079.9 3226.2L1087.4 3229.7L1094.9 3232.8L1101.6 3235.1L1108.3 3237L1114.1 3238.2L1120 3238.9L1130 3239.3L1142.5 3238.9L1156.7 3237.7L1171.8 3235.9L1186.8 3233.7L1203.5 3230.7L1221 3227.2L1270.3 3217L1285.3 3214.2L1299.5 3211.8L1315.4 3209.5L1329.6 3208L1343.7 3207.1L1357.1 3206.8L1370.5 3206.9L1385.5 3207.5L1402.2 3208.5L1423.1 3210L1462.3 3213.2L1505.7 3218.6L1519.9 3220.1L1534.1 3221.1L1550.8 3221.7L1592.6 3222.6L1640.1 3223.2L1784.6 3224L1817.2 3224.3L1843 3224.9L1915.7 3227.2L2034.2 3228.9L2115.2 3231.4L2144.4 3232.1L2254.7 3233.1L2349 3233.5" fill="none" stroke="#ff0000" stroke-width="13" stroke-linejoin="round"/>
<path d="M346 3182.7L358 3011.7L367 2893.8L372 2834L376 2789.8L380 2749.1L384 2712.2L387.9 2679.3L391.9 2650.7L395.9 2626.4L399.9 2606.6L401.9 2598.4L403.9 2591.3L405.9 2585.4L407.9 2580.6L409.9 2576.9L411.9 2574.4L413.9 2572.9L414.9 2572.6L415.9 2572.6L416.9 2572.8L418.9 2574L419.9 2575L421.9 2577.8L424.9 2583.9L426.9 2589.1L428.9 2595.3L431.9 2606.2L435.9 2623.8L439.9 2644.4L443.9 2667.8L449.9 2707.4L456.8 2758.8L463.8 2814.1L480.8 2952.4L489.8 3021.3L494.8 3056.8L499.8 3089.7L504.8 3119.7L508.8 3141.4L513.8 3165.6L518.8 3186.3L522.7 3200.4L524.7 3206.6L527.7 3214.9L531.7 3224.1L533.7 3227.9L536.7 3232.7L538.7 3235.3L541.7 3238.2L543.7 3239.7L546.7 3241L549.7 3241.5L551.7 3241.3L553.7 3240.8L555.7 3240L557.7 3238.9L561.7 3235.8L565.7 3231.8L570.7 3225.8L576.7 3217.6L592.6 3194.4L598.6 3186.6L603.6 3181.1L606.6 3178.2L609.6 3175.6L614.6 3172.3L617.6 3170.9L620.6 3169.9L622.6 3169.5L625.6 3169.3L627.6 3169.3L630.6 3169.8L633.6 3170.6L636.6 3171.9L641.6 3174.8L647.6 3179.4L652.5 3184.1L658.5 3190.5L676.5 3211.6L683.5 3219.4L690.5 3226.3L697.5 3232.2L703.5 3236.1L706.5 3237.7L709.5 3239L712.5 3240L715.4 3240.8L718.4 3241.3L721.4 3241.5L725.4 3241.4L730.4 3240.7L735.4 3239.4L740.4 3237.6L749.4 3233.4L771.4 3221.7L777.4 3219L782.3 3217L787.3 3215.5L792.3 3214.4L797.3 3213.7L801.3 3213.5L806.3 3213.7L812.3 3214.5L817.3 3215.7L823.3 3217.5L828.3 3219.4L834.3 3222L858.2 3233.2L865.2 3236L871.2 3238L877.2 3239.6L882.2 3240.6L887.2 3241.2L892.2 3241.5L897.2 3241.4L902.2 3241.1L907.2 3240.4L912.1 3239.5L922.1 3237.1L944.1 3231L955.4 3228.5L961 3227.6L966.6 3227L975.1 3226.7L980.7 3226.8L986.3 3227.3L997.6 3229.1L1006 3231L1031.4 3237.3L1042.6 3239.6L1053.9 3241L1062.3 3241.5L1070.8 3241.4L1079.2 3240.7L1090.5 3239.3L1113 3235.4L1124.3 3233.8L1135.5 3232.7L1146.8 3232.3L1158.1 3232.7L1169.3 3233.8L1177.8 3235L1203.1 3239L1214.4 3240.4L1225.6 3241.3L1234.1 3241.5L1242.5 3241.4L1253.8 3240.7L1265.1 3239.6L1287.6 3237L1298.8 3236L1310.1 3235.4L1318.6 3235.2L1329.8 3235.5L1341.1 3236.3L1374.9 3239.8L1386.1 3240.8L1397.4 3241.4L1405.8 3241.5L1422.7 3241L1465 3237.8L1476.2 3237.2L1487.5 3237L1495.9 3237L1507.2 3237.5L1552.2 3240.7L1563.5 3241.3L1574.8 3241.5L1594.5 3241.1L1636.7 3238.6L1648 3238.2L1659.2 3238.1L1678.9 3238.5L1724 3241L1735.2 3241.4L1746.5 3241.5L1766.2 3241.2L1808.4 3239.2L1828.1 3238.8L1847.9 3239.1L1892.9 3241L1915.4 3241.5L1935.1 3241.3L1977.4 3239.7L1999.9 3239.3L2019.6 3239.6L2064.6 3241.1L2087.2 3241.5L2106.9 3241.3L2146.3 3240.1L2166 3239.7L2188.5 3239.9L2233.6 3241.2L2256.1 3241.5L2278.6 3241.3L2326.5 3240.1L2349 3240" fill="none" stroke="#000" stroke-width="7.5" stroke-linejoin="round"/>
<path d="M329.5 3044.9h49M329.5 3048.8h49M354 3031.8V3044.9M354 3048.8V3061.8M355.1 2729.4h49M355.1 2739.4h49M379.6 2719.4V2729.4M379.6 2739.4V2749.4M378.4 2560.5h49M378.4 2573.8h49M402.9 2552.2V2560.5M402.9 2573.8V2582.2M401.8 2593.6h49M401.8 2606.3h49M426.3 2585V2593.6M426.3 2606.3V2615M429.3 2714.6h49M429.3 2724.9h49M453.8 2704.7V2714.6M453.8 2724.9V2734.7M452.6 2920.3h49M452.6 2926.5h49M477.1 2908.4V2920.3M477.1 2926.5V2938.4M477.3 3084.1h49M477.3 3087.2h49M501.8 3070.6V3084.1M501.8 3087.2V3100.6M499.3 3149.6h49M499.3 3151.4h49M523.8 3135.5V3149.6M523.8 3151.4V3165.5M526.9 3138.8h49M526.9 3140.8h49M551.4 3124.8V3138.8M551.4 3140.8V3154.8M551.1 3077.7h49M551.1 3080.9h49M575.6 3064.3V3077.7M575.6 3080.9V3094.3M575.6 3009.1h49M575.6 3013.6h49M600.1 2996.4V3009.1M600.1 3013.6V3026.4M598.9 2959.1h49M598.9 2964.6h49M623.4 2946.9V2959.1M623.4 2964.6V2976.9M624.6 2949.2h49M624.6 2954.9h49M649.1 2937V2949.2M649.1 2954.9V2967M648.7 2991.1h49M648.7 2996h49M673.2 2978.6V2991.1M673.2 2996V3008.6M672.3 3039.2h49M672.3 3043.1h49M696.8 3026.1V3039.2M696.8 3043.1V3056.1M698 3096.1h49M698 3099h49M722.5 3082.5V3096.1M722.5 3099V3112.5M722.1 3151.9h49M722.1 3153.6h49M746.6 3137.7V3151.9M746.6 3153.6V3167.7M747.4 3198.6h49M747.4 3200.2h49M771.9 3184.4V3198.6M771.9 3200.2V3214.4M768.7 3222h49M768.7 3223.6h49M793.2 3207.8V3222M793.2 3223.6V3237.8M794.4 3228.3h49M794.4 3229.9h49M818.9 3214.1V3228.3M818.9 3229.9V3244.1M817.6 3218.6h49M817.6 3220.2h49M842.1 3204.4V3218.6M842.1 3220.2V3234.4M842.9 3208.6h49M842.9 3210.2h49M867.4 3194.4V3208.6M867.4 3210.2V3224.4M868.2 3198.6h49M868.2 3200.2h49M892.7 3184.4V3198.6M892.7 3200.2V3214.4M891.9 3187.2h49M891.9 3188.8h49M916.4 3173V3187.2M916.4 3188.8V3203M916.4 3187.2h49M916.4 3188.8h49M940.9 3173V3187.2M940.9 3188.8V3203M940.9 3193.2h49M940.9 3194.8h49M965.4 3179V3193.2M965.4 3194.8V3209M964.6 3190.5h49M964.6 3192.1h49M989.1 3176.3V3190.5M989.1 3192.1V3206.3M989.8 3200.6h49M989.8 3202.2h49M1014.3 3186.4V3200.6M1014.3 3202.2V3216.4M1012.3 3208.6h49M1012.3 3210.2h49M1036.8 3194.4V3208.6M1036.8 3210.2V3224.4M1038 3215.5h49M1038 3217.1h49M1062.5 3201.3V3215.5M1062.5 3217.1V3231.3M1063.3 3214.6h49M1063.3 3216.2h49M1087.8 3200.4V3214.6M1087.8 3216.2V3230.4M1086.2 3213.3h49M1086.2 3214.9h49M1110.7 3199.1V3213.3M1110.7 3214.9V3229.1M1111.5 3209.9h49M1111.5 3211.5h49M1136 3195.7V3209.9M1136 3211.5V3225.7M1137.2 3204.2h49M1137.2 3205.8h49M1161.7 3190V3204.2M1161.7 3205.8V3220M1159.6 3201.4h49M1159.6 3203h49M1184.1 3187.2V3201.4M1184.1 3203V3217.2M1184.1 3194.7h49M1184.1 3196.3h49M1208.6 3180.5V3194.7M1208.6 3196.3V3210.5M1207.8 3194.7h49M1207.8 3196.3h49M1232.3 3180.5V3194.7M1232.3 3196.3V3210.5M1233.1 3187.9h49M1233.1 3189.5h49M1257.6 3173.7V3187.9M1257.6 3189.5V3203.7M1258.8 3187.9h49M1258.8 3189.5h49M1283.3 3173.7V3187.9M1283.3 3189.5V3203.7M1284.1 3189.2h49M1284.1 3190.8h49M1308.6 3175V3189.2M1308.6 3190.8V3205M1308.6 3183.4h49M1308.6 3185h49M1333.1 3169.2V3183.4M1333.1 3185V3199.2M1332.2 3185.2h49M1332.2 3186.8h49M1356.7 3171V3185.2M1356.7 3186.8V3201M1357.9 3187.2h49M1357.9 3188.8h49M1382.4 3173V3187.2M1382.4 3188.8V3203M1383.2 3187.9h49M1383.2 3189.5h49M1407.7 3173.7V3187.9M1407.7 3189.5V3203.7M1407.7 3189.2h49M1407.7 3190.8h49M1432.2 3175V3189.2M1432.2 3190.8V3205M1431.8 3187.2h49M1431.8 3188.8h49M1456.3 3173V3187.2M1456.3 3188.8V3203M1454.3 3194.5h49M1454.3 3196.1h49M1478.8 3180.3V3194.5M1478.8 3196.1V3210.3M1480 3194.5h49M1480 3196.1h49M1504.5 3180.3V3194.5M1504.5 3196.1V3210.3M1505.6 3194.5h49M1505.6 3196.1h49M1530.1 3180.3V3194.5M1530.1 3196.1V3210.3M1530.2 3198.7h49M1530.2 3200.3h49M1554.7 3184.5V3198.7M1554.7 3200.3V3214.5M1554.7 3200.3h49M1554.7 3201.9h49M1579.2 3186.1V3200.3M1579.2 3201.9V3216.1M1579.2 3200.9h49M1579.2 3202.5h49M1603.7 3186.7V3200.9M1603.7 3202.5V3216.7M1603.7 3201.2h49M1603.7 3202.8h49M1628.2 3187V3201.2M1628.2 3202.8V3217M1628.3 3201.6h49M1628.3 3203.2h49M1652.8 3187.4V3201.6M1652.8 3203.2V3217.4M1652.8 3202.5h49M1652.8 3204.1h49M1677.3 3188.3V3202.5M1677.3 3204.1V3218.3M1677.3 3205.4h49M1677.3 3207h49M1701.8 3191.2V3205.4M1701.8 3207V3221.2M1701.8 3207.9h49M1701.8 3209.5h49M1726.3 3193.7V3207.9M1726.3 3209.5V3223.7M1726.4 3208.9h49M1726.4 3210.5h49M1750.9 3194.7V3208.9M1750.9 3210.5V3224.7M1750.9 3209.5h49M1750.9 3211.1h49M1775.4 3195.3V3209.5M1775.4 3211.1V3225.3M1775.4 3210.4h49M1775.4 3212h49M1799.9 3196.2V3210.4M1799.9 3212V3226.2M1800 3212.4h49M1800 3214h49M1824.5 3198.2V3212.4M1824.5 3214V3228.2M1824.5 3215.4h49M1824.5 3217h49M1849 3201.2V3215.4M1849 3217V3231.2M1849 3217.8h49M1849 3219.4h49M1873.5 3203.6V3217.8M1873.5 3219.4V3233.6M1873.5 3219.8h49M1873.5 3221.4h49M1898 3205.6V3219.8M1898 3221.4V3235.6M1898.1 3221.5h49M1898.1 3223.1h49M1922.6 3207.3V3221.5M1922.6 3223.1V3237.3M1922.6 3222.8h49M1922.6 3224.4h49M1947.1 3208.6V3222.8M1947.1 3224.4V3238.6M1947.1 3223.7h49M1947.1 3225.3h49M1971.6 3209.5V3223.7M1971.6 3225.3V3239.5M1971.6 3224.4h49M1971.6 3226h49M1996.1 3210.2V3224.4M1996.1 3226V3240.2M1996.2 3225.1h49M1996.2 3226.7h49M2020.7 3210.9V3225.1M2020.7 3226.7V3240.9M2020.7 3225.8h49M2020.7 3227.4h49M2045.2 3211.6V3225.8M2045.2 3227.4V3241.6M2045.2 3226.5h49M2045.2 3228.1h49M2069.7 3212.3V3226.5M2069.7 3228.1V3242.3M2069.7 3227.1h49M2069.7 3228.7h49M2094.2 3212.9V3227.1M2094.2 3228.7V3242.9M2094.3 3227.8h49M2094.3 3229.4h49M2118.8 3213.6V3227.8M2118.8 3229.4V3243.6M2118.8 3228.6h49M2118.8 3230.2h49M2143.3 3214.4V3228.6M2143.3 3230.2V3244.4M2143.3 3229.6h49M2143.3 3231.2h49M2167.8 3215.4V3229.6M2167.8 3231.2V3245.4M2167.8 3230.9h49M2167.8 3232.5h49M2192.3 3216.7V3230.9M2192.3 3232.5V3246.7M2192.4 3232.1h49M2192.4 3233.7h49M2216.9 3217.9V3232.1M2216.9 3233.7V3247.9M2216.9 3233.2h49M2216.9 3234.8h49M2241.4 3219V3233.2M2241.4 3234.8V3249M2241.4 3233.9h49M2241.4 3235.5h49M2265.9 3219.7V3233.9M2265.9 3235.5V3249.7M2265.9 3234.5h49M2265.9 3236.1h49M2290.4 3220.3V3234.5M2290.4 3236.1V3250.3M2290.5 3235h49M2290.5 3236.6h49M2315 3220.8V3235M2315 3236.6V3250.8M2315 3235.3h49M2315 3236.9h49M2339.5 3221.1V3235.3M2339.5 3236.9V3251.1" stroke="#0000ff" stroke-width="1.3" fill="none"/>
</g>
<g clip-path="url(#c4)">
<path d="M360.5 3829.5L399.3 3518.4L438.1 3373.3L476.9 3443.5L515.7 3608.8L554.5 3738.5L593.4 3764L632.2 3693.7L671 3560.6L709.8 3495.7L748.6 3458.9L787.4 3535.2L865.1 3771L903.9 3867L942.7 3918.1L981.5 3918.1L1020.3 3850.3L1059.1 3789L1098 3743.2L1136.8 3715.1L1175.6 3740.5L1214.4 3753.9L1253.2 3825.5L1292 3869L1330.8 3932.9L1369.7 3959.3L1408.5 3969.1L1447.3 3969.1L1486.1 3950.7L1524.9 3932.9L1563.7 3917.1L1602.6 3904.6L1641.4 3897.3L1680.2 3916.1L1719 3924.5L1757.8 3959.3L1796.6 3964L1835.4 3976.7L1874.3 3995.4L1913.1 3995.4L1951.9 4003.4L1990.7 4010.1L2029.5 4012.8L2068.3 4017.5L2107.2 4008.1L2146 4022.2L2184.8 4024.2L2223.6 4023.5L2262.4 4024.2L2301.2 4028.9L2340 4028.9" fill="none" stroke="#0000ff" stroke-width="1.2" stroke-linejoin="round"/>
<use href="#b" x="360.5" y="3829.5"/>
<use href="#b" x="399.3" y="3518.4"/>
<use href="#b" x="438.1" y="3373.3"/>
<use href="#b" x="476.9" y="3443.5"/>
<use href="#b" x="515.7" y="3608.8"/>
<use href="#b" x="554.5" y="3738.5"/>
<use href="#b" x="593.4" y="3764"/>
<use href="#b" x="632.2" y="3693.7"/>
<use href="#b" x="671" y="3560.6"/>
<use href="#b" x="709.8" y="3495.7"/>
<use href="#b" x="748.6" y="3458.9"/>
<use href="#b" x="787.4" y="3535.2"/>
<use href="#b" x="826.2" y="3652.9"/>
<use href="#b" x="865.1" y="3771"/>
<use href="#b" x="903.9" y="3867"/>
<use href="#b" x="942.7" y="3918.1"/>
<use href="#b" x="981.5" y="3918.1"/>
<use href="#b" x="1020.3" y="3850.3"/>
<use href="#b" x="1059.1" y="3789"/>
<use href="#b" x="1098" y="3743.2"/>
<use href="#b" x="1136.8" y="3715.1"/>
<use href="#b" x="1175.6" y="3740.5"/>
<use href="#b" x="1214.4" y="3753.9"/>
<use href="#b" x="1253.2" y="3825.5"/>
<use href="#b" x="1292" y="3869"/>
<use href="#b" x="1330.8" y="3932.9"/>
<use href="#b" x="1369.7" y="3959.3"/>
<use href="#b" x="1408.5" y="3969.1"/>
<use href="#b" x="1447.3" y="3969.1"/>
<use href="#b" x="1486.1" y="3950.7"/>
<use href="#b" x="1524.9" y="3932.9"/>
<use href="#b" x="1563.7" y="3917.1"/>
<use href="#b" x="1602.6" y="3904.6"/>
<use href="#b" x="1641.4" y="3897.3"/>
<use href="#b" x="1680.2" y="3916.1"/>
<use href="#b" x="1719" y="3924.5"/>
<use href="#b" x="1757.8" y="3959.3"/>
<use href="#b" x="1796.6" y="3964"/>
<use href="#b" x="1835.4" y="3976.7"/>
<use href="#b" x="1874.3" y="3995.4"/>
<use href="#b" x="1913.1" y="3995.4"/>
<use href="#b" x="1951.9" y="4003.4"/>
<use href="#b" x="1990.7" y="4010.1"/>
<use href="#b" x="2029.5" y="4012.8"/>
<use href="#b" x="2068.3" y="4017.5"/>
<use href="#b" x="2107.2" y="4008.1"/>
<use href="#b" x="2146" y="4022.2"/>
<use href="#b" x="2184.8" y="4024.2"/>
<use href="#b" x="2223.6" y="4023.5"/>
<use href="#b" x="2262.4" y="4024.2"/>
<use href="#b" x="2301.2" y="4028.9"/>
<use href="#b" x="2340" y="4028.9"/>
<path d="M346 3980.7L365.2 3740.7L371.9 3659.6L373.6 3641.5L376.1 3617.9L381.1 3577.9L397.8 3464L401.1 3443.7L404.5 3426.9L407 3417.3L409.5 3409.6L413.6 3398L417.8 3388L421.2 3381.7L423.7 3378.3L425.3 3376.7L426.2 3376.2L427.8 3375.6L428.7 3375.6L430.3 3376.1L432 3377.2L433.7 3378.8L435.4 3381.1L437 3383.8L439.5 3388.8L443.7 3399.2L446.2 3406.5L449.5 3417.1L457.1 3443.4L460.4 3456.2L463.7 3472.1L467.9 3496.8L480.4 3578L498.8 3704.8L511.3 3787.8L522.2 3862.2L525.5 3882.5L528.9 3901.1L533 3922.7L537.2 3942.5L541.4 3959.8L545.6 3974.3L552.2 3994.2L558.9 4012.2L563.9 4023.7L566.4 4028.4L568.1 4031.1L570.6 4034.5L572.3 4036.2L573.9 4037.5L575.6 4038.2L577.3 4038.5L579 4038.2L580.6 4037.4L583.1 4035.3L584.8 4033.3L586.5 4030.8L590.6 4023.2L596.5 4009.9L606.5 3984L612.4 3967.6L618.2 3949.3L622.4 3935L626.5 3919.7L634.1 3889.5L640.7 3859.5L659.1 3773.4L664.1 3751.1L669.1 3730L674.1 3710.2L678.3 3694.9L681.7 3683.9L685.8 3671.7L690.8 3659.2L695.8 3648.6L702.5 3636.6L705.9 3631.2L709.2 3626.3L712.5 3622L715.1 3619.2L717.6 3616.7L720.1 3614.6L722.6 3613L725.1 3611.8L727.6 3611.1L730.1 3610.8L732.6 3611.1L735.1 3611.8L737.6 3613L740.1 3614.5L742.6 3616.5L745.1 3618.9L747.6 3621.5L751 3625.5L757.6 3634.9L765.1 3647L771.8 3659.1L777.7 3671.5L781 3679.5L785.2 3690.6L793.5 3715.4L810.2 3769.1L837 3859.4L845.3 3886.8L850.3 3902.4L856.2 3919.7L862 3936.3L867 3949.7L873.7 3966.2L881.2 3983L891.2 4003.3L898.7 4017.2L903.7 4025.1L906.2 4028.5L908.8 4031.5L911.3 4033.9L913.8 4035.7L915.4 4036.6L917.9 4037.5L919.6 4037.8L921.3 4037.8L922.9 4037.6L925.5 4036.9L927.1 4036.1L929.6 4034.7L932.1 4032.9L934.6 4030.8L940.5 4024.9L947.2 4017.1L953.8 4008.4L959.7 4000L964.7 3992.1L970.5 3982.1L982.2 3961.4L991.4 3944.6L1002.3 3923.6L1023.1 3881.5L1030.7 3867.3L1035.7 3858.7L1040.7 3850.7L1045.7 3843.5L1049.9 3838.1L1056.5 3830.7L1060.7 3826.7L1065.7 3822.3L1077.4 3812.8L1082.4 3809.2L1087.4 3805.9L1094.9 3801.7L1099.1 3799.8L1102.5 3798.6L1105.8 3797.6L1109.1 3796.9L1112.5 3796.4L1116.7 3796.2L1120 3796.3L1124.2 3796.8L1128.3 3797.6L1132.5 3798.7L1136.7 3800.1L1140.9 3801.7L1150 3806.1L1155.1 3808.9L1160.9 3812.5L1172.6 3820.5L1182.6 3828.3L1186.8 3832L1190.1 3835.3L1194.3 3840L1198.5 3845.2L1203.5 3852.2L1208.5 3859.6L1220.2 3878.1L1245.2 3920.4L1256.1 3938L1262.8 3948.1L1269.4 3957.7L1277 3968.1L1284.5 3977.9L1294.5 3990.4L1302.8 3999.9L1314.5 4012.2L1327.1 4024.6L1332.9 4029.7L1337.9 4033.3L1342.9 4035.9L1345.4 4036.8L1347.9 4037.5L1352.1 4037.9L1357.1 4037.7L1363 4036.7L1368.8 4034.9L1374.6 4032.7L1382.2 4029.4L1404.7 4018L1415.6 4011.8L1428.1 4003.7L1441.4 3994.5L1473.2 3972L1485.7 3963.7L1494 3958.6L1504.1 3953L1512.4 3948.6L1519.9 3945.1L1527.4 3942L1535.8 3939.3L1548.3 3936L1560.8 3933.1L1570.8 3931.2L1580 3929.8L1588.4 3929L1596.7 3928.7L1608.4 3929L1620.9 3930L1634.3 3931.7L1650.2 3934.3L1670.2 3938.3L1682.7 3941.2L1694.4 3944.6L1706.9 3949.1L1721.1 3954.8L1736.2 3961.3L1747 3966.5L1759.5 3972.9L1772.9 3980.1L1784.6 3986.8L1830.5 4014.2L1863.1 4031.9L1869.8 4035L1875.6 4037.3L1881.4 4039L1887.3 4040.1L1894.8 4040.6L1903.1 4040.3L1913.2 4039.3L1925.7 4037.5L1960.8 4031.5L1999.2 4023.6L2025.9 4018.3L2040.1 4015.7L2052.6 4013.8L2084.3 4009.9L2109.4 4007.3L2130.2 4005.6L2148.6 4004.6L2162.8 4004.4L2176.2 4004.6L2190.4 4005.4L2205.4 4006.7L2224.6 4008.9L2267.2 4014.3L2306.4 4020.4L2320.6 4022.3L2336.5 4024.1L2349 4025" fill="none" stroke="#ff0000" stroke-width="13" stroke-linejoin="round"/>
<path d="M346 4001L355 3905.3L363 3822.7L370 3753.5L376 3697.2L382 3644.3L387.9 3595.2L393.9 3550.4L398.9 3516.5L404.9 3480.3L409.9 3454.1L412.9 3440.1L415.9 3427.5L418.9 3416.3L420.9 3409.5L423.9 3400.5L425.9 3395.3L428.9 3388.6L431.9 3383.3L433.9 3380.5L436.9 3377.4L437.9 3376.7L439.9 3375.7L440.9 3375.4L442.9 3375.3L444.9 3375.8L446.9 3376.8L448.9 3378.4L451.9 3381.8L453.8 3384.7L455.8 3388.2L457.8 3392.2L460.8 3399.1L465.8 3413L470.8 3429.7L475.8 3448.9L480.8 3470.5L484.8 3489.2L489.8 3514.3L498.8 3563.1L507.8 3615.2L530.7 3752.6L537.7 3792.7L543.7 3825.7L550.7 3862L556.7 3890.9L563.7 3921.8L569.7 3945.7L575.7 3967L581.7 3985.6L587.6 4001.5L590.6 4008.5L593.6 4014.8L596.6 4020.4L599.6 4025.4L602.6 4029.8L605.6 4033.5L608.6 4036.7L611.6 4039.2L614.6 4041.3L618.6 4043.1L620.6 4043.7L623.6 4044.2L626.6 4044.2L629.6 4043.8L632.6 4043L635.6 4041.8L638.6 4040.3L641.6 4038.5L647.6 4034L654.5 4027.7L661.5 4020.6L677.5 4003.4L684.5 3996.2L691.5 3989.6L698.5 3983.9L702.5 3981L706.5 3978.5L710.5 3976.4L713.5 3975.1L717.4 3973.7L721.4 3972.7L724.4 3972.3L728.4 3972L731.4 3972.1L735.4 3972.6L738.4 3973.2L742.4 3974.3L746.4 3975.8L750.4 3977.6L754.4 3979.7L758.4 3982.2L765.4 3987L773.4 3993.2L798.3 4014.7L807.3 4022L816.3 4028.7L825.3 4034.3L830.3 4036.9L834.3 4038.7L838.3 4040.3L842.3 4041.6L846.2 4042.6L850.2 4043.4L854.2 4043.9L858.2 4044.2L864.2 4044.2L870.2 4043.6L877.2 4042.3L884.2 4040.6L890.2 4038.7L897.2 4036.2L927.1 4024.5L935.1 4021.8L943.1 4019.5L949.7 4018.1L955.4 4017.2L963.8 4016.4L969.4 4016.3L975.1 4016.5L983.5 4017.4L989.1 4018.3L997.6 4020.2L1011.7 4024.3L1045.5 4035.9L1053.9 4038.4L1062.3 4040.6L1070.8 4042.3L1076.4 4043.1L1082.1 4043.7L1090.5 4044.2L1101.8 4044L1107.4 4043.6L1115.8 4042.7L1129.9 4040.4L1160.9 4034.1L1175 4031.6L1189 4030L1197.5 4029.5L1203.1 4029.4L1214.4 4029.7L1228.5 4030.9L1245.4 4033.4L1276.3 4039.2L1293.2 4041.9L1301.7 4042.9L1310.1 4043.6L1324.2 4044.2L1335.4 4044.1L1349.5 4043.3L1363.6 4041.8L1394.6 4038L1408.6 4036.5L1422.7 4035.5L1436.8 4035.1L1448.1 4035.2L1462.1 4036L1479 4037.5L1512.8 4041.4L1526.9 4042.8L1543.8 4043.9L1557.9 4044.2L1569.1 4044.1L1583.2 4043.5L1597.3 4042.6L1628.2 4040L1642.3 4038.9L1656.4 4038.3L1670.5 4038L1681.7 4038.1L1695.8 4038.6L1712.7 4039.7L1757.8 4043.1L1774.7 4044L1788.7 4044.2L1800 4044.2L1814.1 4043.8L1828.1 4043.1L1873.2 4040.5L1887.3 4040L1901.3 4039.7L1915.4 4039.8L1929.5 4040.2L1991.4 4043.5L2008.3 4044.1L2022.4 4044.2L2047.7 4043.9L2104.1 4041.5L2132.2 4040.8L2146.3 4040.9L2163.2 4041.2L2222.3 4043.6L2239.2 4044.1L2253.3 4044.2L2284.2 4043.9L2349 4041.8" fill="none" stroke="#000" stroke-width="7.5" stroke-linejoin="round"/>
<path d="M336 3827.4h49M336 3831.6h49M360.5 3814.5V3827.4M360.5 3831.6V3844.5M374.8 3513.3h49M374.8 3523.6h49M399.3 3503.4V3513.3M399.3 3523.6V3533.4M413.6 3366.7h49M413.6 3379.9h49M438.1 3358.3V3366.7M438.1 3379.9V3388.3M452.4 3437.6h49M452.4 3449.5h49M476.9 3428.5V3437.6M476.9 3449.5V3458.5M491.2 3604.5h49M491.2 3613.1h49M515.7 3593.8V3604.5M515.7 3613.1V3623.8M530 3735.5h49M530 3741.6h49M554.5 3723.5V3735.5M554.5 3741.6V3753.5M568.9 3761.2h49M568.9 3766.7h49M593.4 3749V3761.2M593.4 3766.7V3779M607.7 3690.3h49M607.7 3697.2h49M632.2 3678.7V3690.3M632.2 3697.2V3708.7M646.5 3555.8h49M646.5 3565.4h49M671 3545.6V3555.8M671 3565.4V3575.6M685.3 3490.3h49M685.3 3501.1h49M709.8 3480.7V3490.3M709.8 3501.1V3510.7M724.1 3453.1h49M724.1 3464.7h49M748.6 3443.9V3453.1M748.6 3464.7V3473.9M762.9 3530.2h49M762.9 3540.2h49M787.4 3520.2V3530.2M787.4 3540.2V3550.2M801.7 3649h49M801.7 3656.8h49M826.2 3637.9V3649M826.2 3656.8V3667.9M840.6 3768.3h49M840.6 3773.7h49M865.1 3756V3768.3M865.1 3773.7V3786M879.4 3865.2h49M879.4 3868.7h49M903.9 3852V3865.2M903.9 3868.7V3882M918.2 3916.8h49M918.2 3919.3h49M942.7 3903.1V3916.8M942.7 3919.3V3933.1M957 3916.8h49M957 3919.3h49M981.5 3903.1V3916.8M981.5 3919.3V3933.1M995.8 3848.3h49M995.8 3852.2h49M1020.3 3835.3V3848.3M1020.3 3852.2V3865.3M1034.6 3786.5h49M1034.6 3791.6h49M1059.1 3774V3786.5M1059.1 3791.6V3804M1073.5 3740.2h49M1073.5 3746.2h49M1098 3728.2V3740.2M1098 3746.2V3758.2M1112.3 3711.9h49M1112.3 3718.4h49M1136.8 3700.1V3711.9M1136.8 3718.4V3730.1M1151.1 3737.5h49M1151.1 3743.5h49M1175.6 3725.5V3737.5M1175.6 3743.5V3755.5M1189.9 3751.1h49M1189.9 3756.8h49M1214.4 3738.9V3751.1M1214.4 3756.8V3768.9M1228.7 3823.3h49M1228.7 3827.7h49M1253.2 3810.5V3823.3M1253.2 3827.7V3840.5M1267.5 3867.3h49M1267.5 3870.7h49M1292 3854V3867.3M1292 3870.7V3884M1306.3 3931.8h49M1306.3 3934h49M1330.8 3917.9V3931.8M1330.8 3934V3947.9M1345.2 3958.5h49M1345.2 3960.1h49M1369.7 3944.3V3958.5M1369.7 3960.1V3974.3M1384 3968.3h49M1384 3969.9h49M1408.5 3954.1V3968.3M1408.5 3969.9V3984.1M1422.8 3968.3h49M1422.8 3969.9h49M1447.3 3954.1V3968.3M1447.3 3969.9V3984.1M1461.6 3949.8h49M1461.6 3951.7h49M1486.1 3935.7V3949.8M1486.1 3951.7V3965.7M1500.4 3931.8h49M1500.4 3934h49M1524.9 3917.9V3931.8M1524.9 3934V3947.9M1539.2 3915.9h49M1539.2 3918.4h49M1563.7 3902.1V3915.9M1563.7 3918.4V3932.1M1578.1 3903.3h49M1578.1 3906h49M1602.6 3889.6V3903.3M1602.6 3906V3919.6M1616.9 3895.8h49M1616.9 3898.7h49M1641.4 3882.3V3895.8M1641.4 3898.7V3912.3M1655.7 3914.8h49M1655.7 3917.3h49M1680.2 3901.1V3914.8M1680.2 3917.3V3931.1M1694.5 3923.3h49M1694.5 3925.7h49M1719 3909.5V3923.3M1719 3925.7V3939.5M1733.3 3958.5h49M1733.3 3960.1h49M1757.8 3944.3V3958.5M1757.8 3960.1V3974.3M1772.1 3963.2h49M1772.1 3964.8h49M1796.6 3949V3963.2M1796.6 3964.8V3979M1810.9 3975.9h49M1810.9 3977.5h49M1835.4 3961.7V3975.9M1835.4 3977.5V3991.7M1849.8 3994.6h49M1849.8 3996.2h49M1874.3 3980.4V3994.6M1874.3 3996.2V4010.4M1888.6 3994.6h49M1888.6 3996.2h49M1913.1 3980.4V3994.6M1913.1 3996.2V4010.4M1927.4 4002.6h49M1927.4 4004.2h49M1951.9 3988.4V4002.6M1951.9 4004.2V4018.4M1966.2 4009.3h49M1966.2 4010.9h49M1990.7 3995.1V4009.3M1990.7 4010.9V4025.1M2005 4012h49M2005 4013.6h49M2029.5 3997.8V4012M2029.5 4013.6V4027.8M2043.8 4016.7h49M2043.8 4018.3h49M2068.3 4002.5V4016.7M2068.3 4018.3V4032.5M2082.7 4007.3h49M2082.7 4008.9h49M2107.2 3993.1V4007.3M2107.2 4008.9V4023.1M2121.5 4021.4h49M2121.5 4023h49M2146 4007.2V4021.4M2146 4023V4037.2M2160.3 4023.4h49M2160.3 4025h49M2184.8 4009.2V4023.4M2184.8 4025V4039.2M2199.1 4022.7h49M2199.1 4024.3h49M2223.6 4008.5V4022.7M2223.6 4024.3V4038.5M2237.9 4023.4h49M2237.9 4025h49M2262.4 4009.2V4023.4M2262.4 4025V4039.2M2276.7 4028.1h49M2276.7 4029.7h49M2301.2 4013.9V4028.1M2301.2 4029.7V4043.9M2315.5 4028.1h49M2315.5 4029.7h49M2340 4013.9V4028.1M2340 4029.7V4043.9" stroke="#0000ff" stroke-width="1.3" fill="none"/>
</g>
<g font-size="95" fill="#000" stroke="#000" stroke-width="0.7">
<text x="299.5" y="861.2" text-anchor="end">0.0</text>
<text x="299.5" y="526.8" text-anchor="end">0.5</text>
<text x="299.5" y="192.3" text-anchor="end">1.0</text>
<text x="299.5" y="1664" text-anchor="end">0.0</text>
<text x="299.5" y="1329.5" text-anchor="end">0.5</text>
<text x="299.5" y="995" text-anchor="end">1.0</text>
<text x="299.5" y="2466.8" text-anchor="end">0.0</text>
<text x="299.5" y="2132.3" text-anchor="end">0.5</text>
<text x="299.5" y="1797.8" text-anchor="end">1.0</text>
<text x="299.5" y="3269.5" text-anchor="end">0.0</text>
<text x="299.5" y="2935" text-anchor="end">0.5</text>
<text x="299.5" y="2600.5" text-anchor="end">1.0</text>
<text x="299.5" y="4072.2" text-anchor="end">0.0</text>
<text x="299.5" y="3737.8" text-anchor="end">0.5</text>
<text x="299.5" y="3403.3" text-anchor="end">1.0</text>
<text x="342" y="4160.7" text-anchor="middle">0</text>
<text x="743.4" y="4160.7" text-anchor="middle">1</text>
<text x="1144.8" y="4160.7" text-anchor="middle">2</text>
<text x="1546.2" y="4160.7" text-anchor="middle">3</text>
<text x="1947.6" y="4160.7" text-anchor="middle">4</text>
<text x="2349" y="4160.7" text-anchor="middle">5</text>
</g>
<text x="869" y="4302.5" font-size="94" stroke="#000" stroke-width="0.7">Scattering Angle θ (mrad)</text>
<text transform="translate(120 1519.3) rotate(-90)" font-size="95.4" stroke="#000" stroke-width="0.7">dσ/dθ (arb. unit)</text>
<text x="1519.2" y="190.7" font-size="82" fill="#0000ff" stroke="#0000ff" stroke-width="0.6">5 keV/u</text>
<path d="M1802.5 166.5H1969.2" stroke="#0000ff" stroke-width="1.2" stroke-linecap="round"/>
<use href="#b" x="1886" y="166.5"/>
<path d="M1802.5 258.9H1969.2" stroke="#ff0000" stroke-width="14" stroke-linecap="round"/>
<path d="M1802.5 351.4H1969.2" stroke="#000" stroke-width="7" stroke-linecap="round"/>
<text x="1987.5" y="192" font-size="75" stroke="#000" stroke-width="0.6">exp.</text>
<text x="1987.5" y="283.8" font-size="75" stroke="#000" stroke-width="0.6">TC-AOCC</text>
<text x="1987.5" y="374.8" font-size="75" stroke="#000" stroke-width="0.6">R=3</text>
<text x="1410.2" y="964" font-size="82" fill="#0000ff" stroke="#0000ff" stroke-width="0.6">3.75 keV/u</text>
<path d="M1817 927H1983.3" stroke="#0000ff" stroke-width="4" stroke-linecap="round"/>
<use href="#b" x="1900" y="927"/>
<path d="M1817 1018.1H1983.3" stroke="#ff0000" stroke-width="14" stroke-linecap="round"/>
<path d="M1817 1110.3H1983.3" stroke="#000" stroke-width="7" stroke-linecap="round"/>
<text x="2000.5" y="952.4" font-size="75" stroke="#000" stroke-width="0.6">exp.</text>
<text x="2000.5" y="1044.6" font-size="75" stroke="#000" stroke-width="0.6">TC-AOCC</text>
<text x="2000.5" y="1135.6" font-size="75" stroke="#000" stroke-width="0.6">R=3.5</text>
<text x="1417.2" y="1773.3" font-size="82" fill="#0000ff" stroke="#0000ff" stroke-width="0.6">2.5 keV/u</text>
<path d="M1811.7 1735.4H1977.8" stroke="#0000ff" stroke-width="7" stroke-linecap="round"/>
<use href="#b" x="1893" y="1735.4"/>
<path d="M1811.7 1827.2H1977.8" stroke="#ff0000" stroke-width="14" stroke-linecap="round"/>
<path d="M1811.7 1918.6H1977.8" stroke="#000" stroke-width="7" stroke-linecap="round"/>
<text x="1997.5" y="1761.5" font-size="75" stroke="#000" stroke-width="0.6">exp.</text>
<text x="1997.5" y="1852.5" font-size="75" stroke="#000" stroke-width="0.6">TC-AOCC</text>
<text x="1997.5" y="1944" font-size="75" stroke="#000" stroke-width="0.6">R=4</text>
<text x="1409.2" y="2572.1" font-size="82" fill="#0000ff" stroke="#0000ff" stroke-width="0.6">1.25 keV/u</text>
<path d="M1813 2541.6H1978" stroke="#0000ff" stroke-width="1.2" stroke-linecap="round"/>
<use href="#b" x="1895" y="2541.6"/>
<path d="M1813 2634.2H1978" stroke="#ff0000" stroke-width="14" stroke-linecap="round"/>
<path d="M1813 2725.6H1978" stroke="#000" stroke-width="7" stroke-linecap="round"/>
<text x="1997.5" y="2569.2" font-size="75" stroke="#000" stroke-width="0.6">exp.</text>
<text x="1997.5" y="2660" font-size="75" stroke="#000" stroke-width="0.6">TC-AOCC</text>
<text x="1997.5" y="2751" font-size="75" stroke="#000" stroke-width="0.6">R=4.5</text>
<text x="1421.2" y="3405" font-size="82" fill="#0000ff" stroke="#0000ff" stroke-width="0.6">0.5 keV/u</text>
<path d="M1812.8 3350.8H1977.5" stroke="#0000ff" stroke-width="1.2" stroke-linecap="round"/>
<use href="#b" x="1894" y="3350.8"/>
<path d="M1812.8 3443.4H1977.5" stroke="#ff0000" stroke-width="14" stroke-linecap="round"/>
<path d="M1812.8 3535.6H1977.5" stroke="#000" stroke-width="7" stroke-linecap="round"/>
<text x="1997.5" y="3378" font-size="75" stroke="#000" stroke-width="0.6">exp.</text>
<text x="1997.5" y="3468.7" font-size="75" stroke="#000" stroke-width="0.6">TC-AOCC</text>
<text x="1997.5" y="3561" font-size="75" stroke="#000" stroke-width="0.6">R=5.2</text>
</svg></body></html>
